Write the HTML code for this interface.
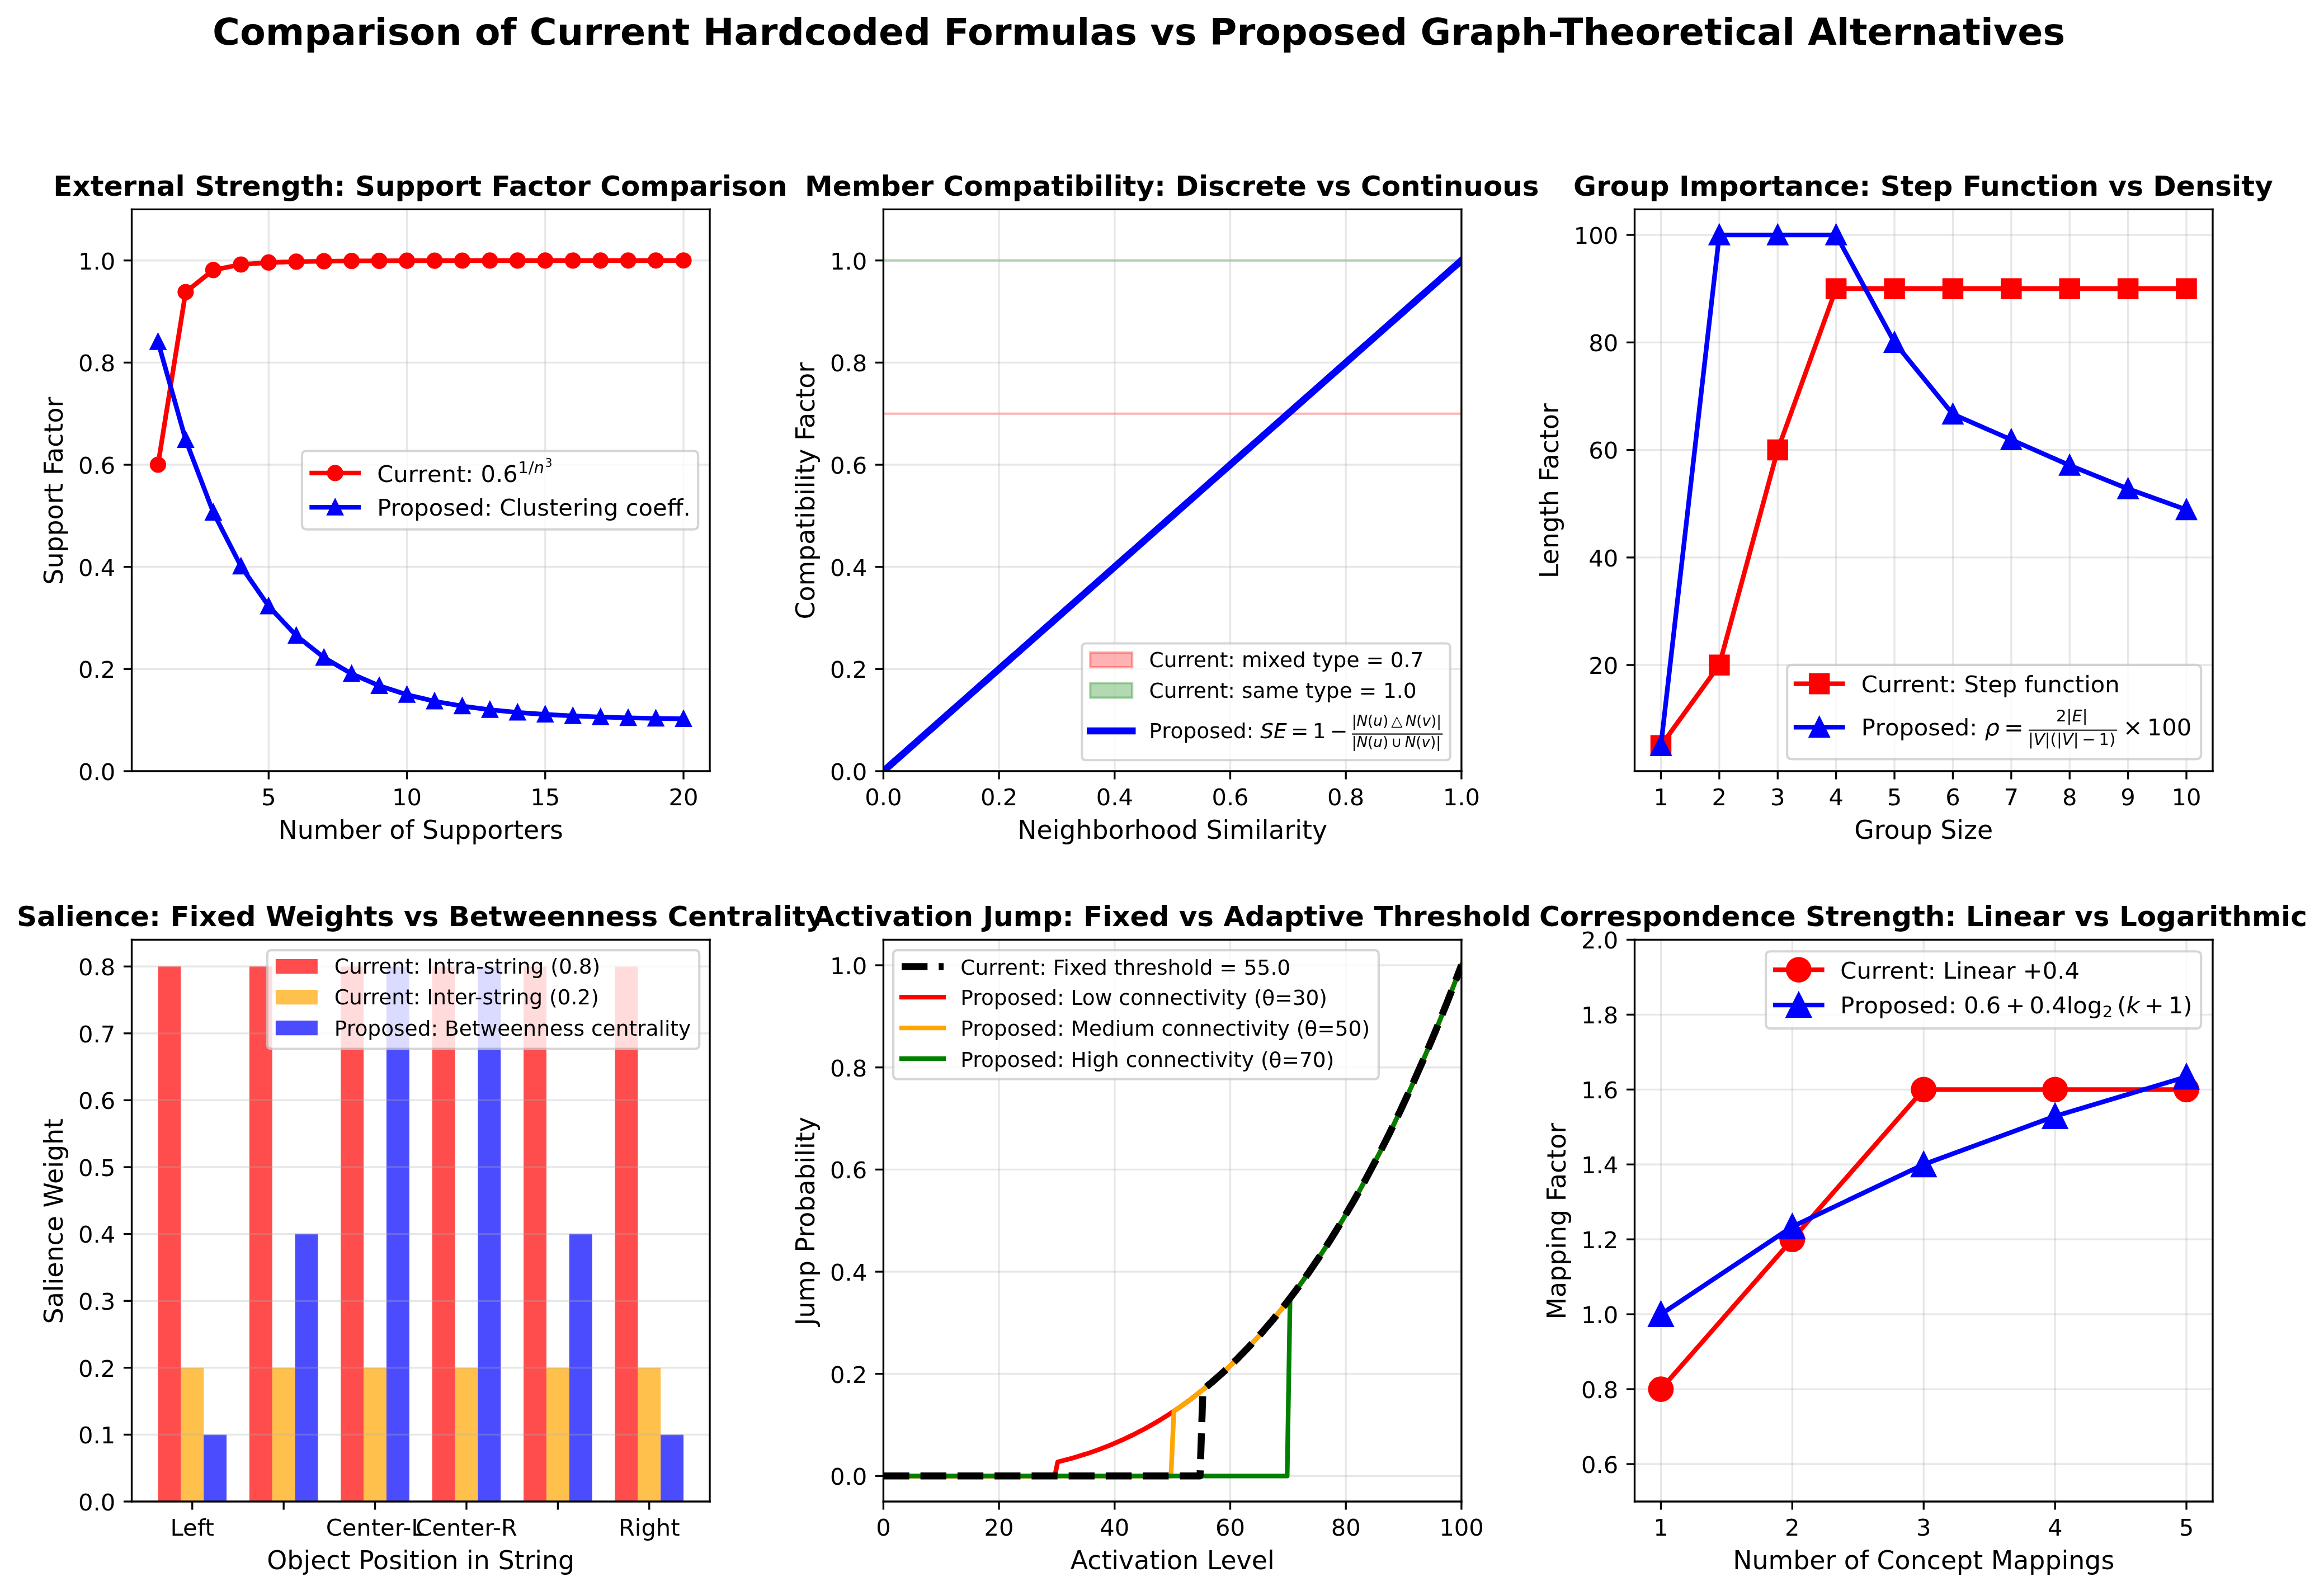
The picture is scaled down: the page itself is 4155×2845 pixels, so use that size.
<!DOCTYPE html>
<html><head><meta charset="utf-8"><title>Comparison of Current Hardcoded Formulas vs Proposed Graph-Theoretical Alternatives</title>
<style>
html,body{margin:0;padding:0;background:#fff;}
body{width:4155px;height:2845px;overflow:hidden;}
svg{display:block;will-change:transform;}
</style></head><body>
<svg width="4155" height="2845" preserveAspectRatio="none" viewBox="0 0 997.2 682.8" version="1.1">
<defs>
<style type="text/css">*{stroke-linejoin: round; stroke-linecap: butt}</style>
</defs>
<g id="figure_1">
<g id="patch_1">
<path d="M 0 682.8
L 997.2 682.8
L 997.2 0
L 0 0
z
" style="fill: #ffffff"/>
</g>
<g id="axes_1">
<g id="patch_2">
<path d="M 56.52 330.96
L 304.56 330.96
L 304.56 89.856
L 56.52 89.856
z
" style="fill: #ffffff"/>
</g>
<g id="matplotlib.axis_1">
<g id="xtick_1">
<g id="line2d_1">
<path d="M 115.266316 330.96
L 115.266316 89.856
" clip-path="url(#p49a4b855a4)" style="fill: none; stroke: #b0b0b0; stroke-opacity: 0.3; stroke-width: 0.8; stroke-linecap: square"/>
</g>
<g id="line2d_2">
<defs>
<path id="m7c25c535dc" d="M 0 0
L 0 3.5
" style="stroke: #000000; stroke-width: 0.8"/>
</defs>
<g>
<use href="#m7c25c535dc" x="115.266316" y="330.96" style="stroke: #000000; stroke-width: 0.8"/>
</g>
</g>
<g id="text_1">
<text style="font-size: 10px; font-family: 'DejaVu Sans', sans-serif; text-anchor: middle" x="115.266316" y="345.558437" transform="rotate(-0 115.266316 345.558437)">5</text>
</g>
</g>
<g id="xtick_2">
<g id="line2d_3">
<path d="M 174.606029 330.96
L 174.606029 89.856
" clip-path="url(#p49a4b855a4)" style="fill: none; stroke: #b0b0b0; stroke-opacity: 0.3; stroke-width: 0.8; stroke-linecap: square"/>
</g>
<g id="line2d_4">
<g>
<use href="#m7c25c535dc" x="174.606029" y="330.96" style="stroke: #000000; stroke-width: 0.8"/>
</g>
</g>
<g id="text_2">
<text style="font-size: 10px; font-family: 'DejaVu Sans', sans-serif; text-anchor: middle" x="174.606029" y="345.558437" transform="rotate(-0 174.606029 345.558437)">10</text>
</g>
</g>
<g id="xtick_3">
<g id="line2d_5">
<path d="M 233.945742 330.96
L 233.945742 89.856
" clip-path="url(#p49a4b855a4)" style="fill: none; stroke: #b0b0b0; stroke-opacity: 0.3; stroke-width: 0.8; stroke-linecap: square"/>
</g>
<g id="line2d_6">
<g>
<use href="#m7c25c535dc" x="233.945742" y="330.96" style="stroke: #000000; stroke-width: 0.8"/>
</g>
</g>
<g id="text_3">
<text style="font-size: 10px; font-family: 'DejaVu Sans', sans-serif; text-anchor: middle" x="233.945742" y="345.558437" transform="rotate(-0 233.945742 345.558437)">15</text>
</g>
</g>
<g id="xtick_4">
<g id="line2d_7">
<path d="M 293.285455 330.96
L 293.285455 89.856
" clip-path="url(#p49a4b855a4)" style="fill: none; stroke: #b0b0b0; stroke-opacity: 0.3; stroke-width: 0.8; stroke-linecap: square"/>
</g>
<g id="line2d_8">
<g>
<use href="#m7c25c535dc" x="293.285455" y="330.96" style="stroke: #000000; stroke-width: 0.8"/>
</g>
</g>
<g id="text_4">
<text style="font-size: 10px; font-family: 'DejaVu Sans', sans-serif; text-anchor: middle" x="293.285455" y="345.558437" transform="rotate(-0 293.285455 345.558437)">20</text>
</g>
</g>
<g id="xlabel1">
<text style="font-size: 11px; font-family: 'DejaVu Sans', sans-serif; text-anchor: middle" x="180.54" y="359.996406" transform="rotate(-0 180.54 359.996406)">Number of Supporters</text>
</g>
</g>
<g id="matplotlib.axis_2">
<g id="ytick_1">
<g id="line2d_9">
<path d="M 56.52 330.96
L 304.56 330.96
" clip-path="url(#p49a4b855a4)" style="fill: none; stroke: #b0b0b0; stroke-opacity: 0.3; stroke-width: 0.8; stroke-linecap: square"/>
</g>
<g id="line2d_10">
<defs>
<path id="mb258c49b38" d="M 0 0
L -3.5 0
" style="stroke: #000000; stroke-width: 0.8"/>
</defs>
<g>
<use href="#mb258c49b38" x="56.52" y="330.96" style="stroke: #000000; stroke-width: 0.8"/>
</g>
</g>
<g id="text_5">
<text style="font-size: 10px; font-family: 'DejaVu Sans', sans-serif; text-anchor: end" x="49.52" y="334.759219" transform="rotate(-0 49.52 334.759219)">0.0</text>
</g>
</g>
<g id="ytick_2">
<g id="line2d_11">
<path d="M 56.52 287.122909
L 304.56 287.122909
" clip-path="url(#p49a4b855a4)" style="fill: none; stroke: #b0b0b0; stroke-opacity: 0.3; stroke-width: 0.8; stroke-linecap: square"/>
</g>
<g id="line2d_12">
<g>
<use href="#mb258c49b38" x="56.52" y="287.122909" style="stroke: #000000; stroke-width: 0.8"/>
</g>
</g>
<g id="text_6">
<text style="font-size: 10px; font-family: 'DejaVu Sans', sans-serif; text-anchor: end" x="49.52" y="290.922128" transform="rotate(-0 49.52 290.922128)">0.2</text>
</g>
</g>
<g id="ytick_3">
<g id="line2d_13">
<path d="M 56.52 243.285818
L 304.56 243.285818
" clip-path="url(#p49a4b855a4)" style="fill: none; stroke: #b0b0b0; stroke-opacity: 0.3; stroke-width: 0.8; stroke-linecap: square"/>
</g>
<g id="line2d_14">
<g>
<use href="#mb258c49b38" x="56.52" y="243.285818" style="stroke: #000000; stroke-width: 0.8"/>
</g>
</g>
<g id="text_7">
<text style="font-size: 10px; font-family: 'DejaVu Sans', sans-serif; text-anchor: end" x="49.52" y="247.085037" transform="rotate(-0 49.52 247.085037)">0.4</text>
</g>
</g>
<g id="ytick_4">
<g id="line2d_15">
<path d="M 56.52 199.448727
L 304.56 199.448727
" clip-path="url(#p49a4b855a4)" style="fill: none; stroke: #b0b0b0; stroke-opacity: 0.3; stroke-width: 0.8; stroke-linecap: square"/>
</g>
<g id="line2d_16">
<g>
<use href="#mb258c49b38" x="56.52" y="199.448727" style="stroke: #000000; stroke-width: 0.8"/>
</g>
</g>
<g id="text_8">
<text style="font-size: 10px; font-family: 'DejaVu Sans', sans-serif; text-anchor: end" x="49.52" y="203.247946" transform="rotate(-0 49.52 203.247946)">0.6</text>
</g>
</g>
<g id="ytick_5">
<g id="line2d_17">
<path d="M 56.52 155.611636
L 304.56 155.611636
" clip-path="url(#p49a4b855a4)" style="fill: none; stroke: #b0b0b0; stroke-opacity: 0.3; stroke-width: 0.8; stroke-linecap: square"/>
</g>
<g id="line2d_18">
<g>
<use href="#mb258c49b38" x="56.52" y="155.611636" style="stroke: #000000; stroke-width: 0.8"/>
</g>
</g>
<g id="text_9">
<text style="font-size: 10px; font-family: 'DejaVu Sans', sans-serif; text-anchor: end" x="49.52" y="159.410855" transform="rotate(-0 49.52 159.410855)">0.8</text>
</g>
</g>
<g id="ytick_6">
<g id="line2d_19">
<path d="M 56.52 111.774545
L 304.56 111.774545
" clip-path="url(#p49a4b855a4)" style="fill: none; stroke: #b0b0b0; stroke-opacity: 0.3; stroke-width: 0.8; stroke-linecap: square"/>
</g>
<g id="line2d_20">
<g>
<use href="#mb258c49b38" x="56.52" y="111.774545" style="stroke: #000000; stroke-width: 0.8"/>
</g>
</g>
<g id="text_10">
<text style="font-size: 10px; font-family: 'DejaVu Sans', sans-serif; text-anchor: end" x="49.52" y="115.573764" transform="rotate(-0 49.52 115.573764)">1.0</text>
</g>
</g>
<g id="ylabel1" transform="translate(-0.4800 0.2400)">
<text style="font-size: 11px; font-family: 'DejaVu Sans', sans-serif; text-anchor: middle" x="27.329219" y="210.408" transform="rotate(-90 27.329219 210.408)">Support Factor</text>
</g>
</g>
<g id="line2d_21">
<path d="M 67.794545 199.448727
L 79.662488 125.332765
L 91.530431 115.882435
L 103.398373 113.517044
L 115.266316 112.668442
L 127.134258 112.292292
L 139.002201 112.100733
L 150.870144 111.993119
L 162.738086 111.92808
L 174.606029 111.886482
L 186.473971 111.858651
L 198.341914 111.839331
L 210.209856 111.825502
L 222.077799 111.815345
L 233.945742 111.807718
L 245.813684 111.801879
L 257.681627 111.797334
L 269.549569 111.793743
L 281.417512 111.790869
L 293.285455 111.788541
" clip-path="url(#p49a4b855a4)" style="fill: none; stroke: #ff0000; stroke-width: 2; stroke-linecap: square"/>
<defs>
<path id="m970e73fc16" d="M 0 3
C 0.795609 3 1.55874 2.683901 2.12132 2.12132
C 2.683901 1.55874 3 0.795609 3 0
C 3 -0.795609 2.683901 -1.55874 2.12132 -2.12132
C 1.55874 -2.683901 0.795609 -3 0 -3
C -0.795609 -3 -1.55874 -2.683901 -2.12132 -2.12132
C -2.683901 -1.55874 -3 -0.795609 -3 0
C -3 0.795609 -2.683901 1.55874 -2.12132 2.12132
C -1.55874 2.683901 -0.795609 3 0 3
z
" style="stroke: #ff0000"/>
</defs>
<g clip-path="url(#p49a4b855a4)">
<use href="#m970e73fc16" x="67.794545" y="199.448727" style="fill: #ff0000; stroke: #ff0000"/>
<use href="#m970e73fc16" x="79.662488" y="125.332765" style="fill: #ff0000; stroke: #ff0000"/>
<use href="#m970e73fc16" x="91.530431" y="115.882435" style="fill: #ff0000; stroke: #ff0000"/>
<use href="#m970e73fc16" x="103.398373" y="113.517044" style="fill: #ff0000; stroke: #ff0000"/>
<use href="#m970e73fc16" x="115.266316" y="112.668442" style="fill: #ff0000; stroke: #ff0000"/>
<use href="#m970e73fc16" x="127.134258" y="112.292292" style="fill: #ff0000; stroke: #ff0000"/>
<use href="#m970e73fc16" x="139.002201" y="112.100733" style="fill: #ff0000; stroke: #ff0000"/>
<use href="#m970e73fc16" x="150.870144" y="111.993119" style="fill: #ff0000; stroke: #ff0000"/>
<use href="#m970e73fc16" x="162.738086" y="111.92808" style="fill: #ff0000; stroke: #ff0000"/>
<use href="#m970e73fc16" x="174.606029" y="111.886482" style="fill: #ff0000; stroke: #ff0000"/>
<use href="#m970e73fc16" x="186.473971" y="111.858651" style="fill: #ff0000; stroke: #ff0000"/>
<use href="#m970e73fc16" x="198.341914" y="111.839331" style="fill: #ff0000; stroke: #ff0000"/>
<use href="#m970e73fc16" x="210.209856" y="111.825502" style="fill: #ff0000; stroke: #ff0000"/>
<use href="#m970e73fc16" x="222.077799" y="111.815345" style="fill: #ff0000; stroke: #ff0000"/>
<use href="#m970e73fc16" x="233.945742" y="111.807718" style="fill: #ff0000; stroke: #ff0000"/>
<use href="#m970e73fc16" x="245.813684" y="111.801879" style="fill: #ff0000; stroke: #ff0000"/>
<use href="#m970e73fc16" x="257.681627" y="111.797334" style="fill: #ff0000; stroke: #ff0000"/>
<use href="#m970e73fc16" x="269.549569" y="111.793743" style="fill: #ff0000; stroke: #ff0000"/>
<use href="#m970e73fc16" x="281.417512" y="111.790869" style="fill: #ff0000; stroke: #ff0000"/>
<use href="#m970e73fc16" x="293.285455" y="111.788541" style="fill: #ff0000; stroke: #ff0000"/>
</g>
</g>
<g id="line2d_22">
<path d="M 67.794545 146.664876
L 79.662488 188.749927
L 91.530431 219.927299
L 103.398373 243.024064
L 115.266316 260.134569
L 127.134258 272.810343
L 139.002201 282.200787
L 150.870144 289.157399
L 162.738086 294.310984
L 174.606029 298.128853
L 186.473971 300.957201
L 198.341914 303.052492
L 210.209856 304.604722
L 222.077799 305.754642
L 233.945742 306.606524
L 245.813684 307.237614
L 257.681627 307.705136
L 269.549569 308.051486
L 281.417512 308.308068
L 293.285455 308.498148
" clip-path="url(#p49a4b855a4)" style="fill: none; stroke: #0000ff; stroke-width: 2; stroke-linecap: square"/>
<defs>
<path id="m8565240a08" d="M 0 -3
L -3 3
L 3 3
z
" style="stroke: #0000ff; stroke-linejoin: miter"/>
</defs>
<g clip-path="url(#p49a4b855a4)">
<use href="#m8565240a08" x="67.794545" y="146.664876" style="fill: #0000ff; stroke: #0000ff; stroke-linejoin: miter"/>
<use href="#m8565240a08" x="79.662488" y="188.749927" style="fill: #0000ff; stroke: #0000ff; stroke-linejoin: miter"/>
<use href="#m8565240a08" x="91.530431" y="219.927299" style="fill: #0000ff; stroke: #0000ff; stroke-linejoin: miter"/>
<use href="#m8565240a08" x="103.398373" y="243.024064" style="fill: #0000ff; stroke: #0000ff; stroke-linejoin: miter"/>
<use href="#m8565240a08" x="115.266316" y="260.134569" style="fill: #0000ff; stroke: #0000ff; stroke-linejoin: miter"/>
<use href="#m8565240a08" x="127.134258" y="272.810343" style="fill: #0000ff; stroke: #0000ff; stroke-linejoin: miter"/>
<use href="#m8565240a08" x="139.002201" y="282.200787" style="fill: #0000ff; stroke: #0000ff; stroke-linejoin: miter"/>
<use href="#m8565240a08" x="150.870144" y="289.157399" style="fill: #0000ff; stroke: #0000ff; stroke-linejoin: miter"/>
<use href="#m8565240a08" x="162.738086" y="294.310984" style="fill: #0000ff; stroke: #0000ff; stroke-linejoin: miter"/>
<use href="#m8565240a08" x="174.606029" y="298.128853" style="fill: #0000ff; stroke: #0000ff; stroke-linejoin: miter"/>
<use href="#m8565240a08" x="186.473971" y="300.957201" style="fill: #0000ff; stroke: #0000ff; stroke-linejoin: miter"/>
<use href="#m8565240a08" x="198.341914" y="303.052492" style="fill: #0000ff; stroke: #0000ff; stroke-linejoin: miter"/>
<use href="#m8565240a08" x="210.209856" y="304.604722" style="fill: #0000ff; stroke: #0000ff; stroke-linejoin: miter"/>
<use href="#m8565240a08" x="222.077799" y="305.754642" style="fill: #0000ff; stroke: #0000ff; stroke-linejoin: miter"/>
<use href="#m8565240a08" x="233.945742" y="306.606524" style="fill: #0000ff; stroke: #0000ff; stroke-linejoin: miter"/>
<use href="#m8565240a08" x="245.813684" y="307.237614" style="fill: #0000ff; stroke: #0000ff; stroke-linejoin: miter"/>
<use href="#m8565240a08" x="257.681627" y="307.705136" style="fill: #0000ff; stroke: #0000ff; stroke-linejoin: miter"/>
<use href="#m8565240a08" x="269.549569" y="308.051486" style="fill: #0000ff; stroke: #0000ff; stroke-linejoin: miter"/>
<use href="#m8565240a08" x="281.417512" y="308.308068" style="fill: #0000ff; stroke: #0000ff; stroke-linejoin: miter"/>
<use href="#m8565240a08" x="293.285455" y="308.498148" style="fill: #0000ff; stroke: #0000ff; stroke-linejoin: miter"/>
</g>
</g>
<g id="patch_3">
<path d="M 56.52 330.96
L 56.52 89.856
" style="fill: none; stroke: #000000; stroke-width: 0.8; stroke-linejoin: miter; stroke-linecap: square"/>
</g>
<g id="patch_4">
<path d="M 304.56 330.96
L 304.56 89.856
" style="fill: none; stroke: #000000; stroke-width: 0.8; stroke-linejoin: miter; stroke-linecap: square"/>
</g>
<g id="patch_5">
<path d="M 56.52 330.96
L 304.56 330.96
" style="fill: none; stroke: #000000; stroke-width: 0.8; stroke-linejoin: miter; stroke-linecap: square"/>
</g>
<g id="patch_6">
<path d="M 56.52 89.856
L 304.56 89.856
" style="fill: none; stroke: #000000; stroke-width: 0.8; stroke-linejoin: miter; stroke-linecap: square"/>
</g>
<g id="title1" transform="translate(-0.1920 0.2400)">
<text style="font-weight: 700; font-size: 12px; font-family: 'DejaVu Sans', sans-serif; text-anchor: middle" x="180.54" y="83.856" transform="rotate(-0 180.54 83.856)">External Strength: Support Factor Comparison</text>
</g>
<g id="legend_1">
<g id="leg1_frame">
<path d="M 131.5772 227.1871
L 297.5600 227.1871
Q 299.5600 227.1871 299.5600 225.1871
L 299.5600 195.5089
Q 299.5600 193.5089 297.5600 193.5089
L 131.5772 193.5089
Q 129.5772 193.5089 129.5772 195.5089
L 129.5772 225.1871
Q 129.5772 227.1871 131.5772 227.1871
z
" style="fill: #ffffff; opacity: 0.8; stroke: #cccccc; stroke-linejoin: miter"/>
</g>
<g id="leg1_handle0" transform="translate(0.2160 0.3360)">
<path d="M 133.577188 202.68925
L 143.577188 202.68925
L 153.577188 202.68925
" style="fill: none; stroke: #ff0000; stroke-width: 2; stroke-linecap: square"/>
<g>
<use href="#m970e73fc16" x="143.577188" y="202.68925" style="fill: #ff0000; stroke: #ff0000"/>
</g>
</g>
<g id="leg1_text0" transform="translate(0.2160 1.5360)">
<g transform="translate(161.577188 206.18925)">
<text>
<tspan x="0" y="-0.855469" style="font-size: 10px; font-family: 'DejaVu Sans', sans-serif">C</tspan>
<tspan x="6.982422" y="-0.855469" style="font-size: 10px; font-family: 'DejaVu Sans', sans-serif">u</tspan>
<tspan x="13.320312" y="-0.855469" style="font-size: 10px; font-family: 'DejaVu Sans', sans-serif">r</tspan>
<tspan x="17.431641" y="-0.855469" style="font-size: 10px; font-family: 'DejaVu Sans', sans-serif">r</tspan>
<tspan x="21.542969" y="-0.855469" style="font-size: 10px; font-family: 'DejaVu Sans', sans-serif">e</tspan>
<tspan x="27.695312" y="-0.855469" style="font-size: 10px; font-family: 'DejaVu Sans', sans-serif">n</tspan>
<tspan x="34.033203" y="-0.855469" style="font-size: 10px; font-family: 'DejaVu Sans', sans-serif">t</tspan>
<tspan x="37.954102" y="-0.855469" style="font-size: 10px; font-family: 'DejaVu Sans', sans-serif">:</tspan>
<tspan x="41.323242" y="-0.855469" style="font-size: 10px; font-family: 'DejaVu Sans', sans-serif"> </tspan>
<tspan x="44.501953" y="-0.855469" style="font-size: 10px; font-family: 'DejaVu Sans', sans-serif">0</tspan>
<tspan x="50.864258" y="-0.855469" style="font-size: 10px; font-family: 'DejaVu Sans', sans-serif">.</tspan>
<tspan x="54.042969" y="-0.855469" style="font-size: 10px; font-family: 'DejaVu Sans', sans-serif">6</tspan>
<tspan x="60.500977" y="-4.683594" style="font-size: 7px; font-family: 'DejaVu Sans', sans-serif">1</tspan>
<tspan x="64.95459" y="-4.683594" style="font-size: 7px; font-family: 'DejaVu Sans', sans-serif">/</tspan>
<tspan x="67.312988" y="-4.683594" style="font-style: oblique; font-size: 7px; font-family: 'DejaVu Sans', sans-serif">n</tspan>
<tspan x="72.074392" y="-7.363281" style="font-size: 4.9px; font-family: 'DejaVu Sans', sans-serif">3</tspan>
</text>
</g>
</g>
<g id="leg1_handle1" transform="translate(0.2160 0.3600)">
<path d="M 133.577188 217.367375
L 143.577188 217.367375
L 153.577188 217.367375
" style="fill: none; stroke: #0000ff; stroke-width: 2; stroke-linecap: square"/>
<g>
<use href="#m8565240a08" x="143.577188" y="217.367375" style="fill: #0000ff; stroke: #0000ff; stroke-linejoin: miter"/>
</g>
</g>
<g id="leg1_text1" transform="translate(0.2160 0.4560)">
<text style="font-size: 10px; font-family: 'DejaVu Sans', sans-serif; text-anchor: start" x="161.577188" y="220.867375" transform="rotate(-0 161.577188 220.867375)">Proposed: Clustering coeff.</text>
</g>
</g>
</g>
<g id="axes_2">
<g id="patch_7">
<path d="M 379.056 330.96
L 627.096 330.96
L 627.096 89.856
L 379.056 89.856
z
" style="fill: #ffffff"/>
</g>
<g id="FillBetweenPolyCollection_1">
<defs>
<path id="me90b8fbbf3" d="M 379.056 -505.269818
L 379.056 -505.269818
L 381.561455 -505.269818
L 384.066909 -505.269818
L 386.572364 -505.269818
L 389.077818 -505.269818
L 391.583273 -505.269818
L 394.088727 -505.269818
L 396.594182 -505.269818
L 399.099636 -505.269818
L 401.605091 -505.269818
L 404.110545 -505.269818
L 406.616 -505.269818
L 409.121455 -505.269818
L 411.626909 -505.269818
L 414.132364 -505.269818
L 416.637818 -505.269818
L 419.143273 -505.269818
L 421.648727 -505.269818
L 424.154182 -505.269818
L 426.659636 -505.269818
L 429.165091 -505.269818
L 431.670545 -505.269818
L 434.176 -505.269818
L 436.681455 -505.269818
L 439.186909 -505.269818
L 441.692364 -505.269818
L 444.197818 -505.269818
L 446.703273 -505.269818
L 449.208727 -505.269818
L 451.714182 -505.269818
L 454.219636 -505.269818
L 456.725091 -505.269818
L 459.230545 -505.269818
L 461.736 -505.269818
L 464.241455 -505.269818
L 466.746909 -505.269818
L 469.252364 -505.269818
L 471.757818 -505.269818
L 474.263273 -505.269818
L 476.768727 -505.269818
L 479.274182 -505.269818
L 481.779636 -505.269818
L 484.285091 -505.269818
L 486.790545 -505.269818
L 489.296 -505.269818
L 491.801455 -505.269818
L 494.306909 -505.269818
L 496.812364 -505.269818
L 499.317818 -505.269818
L 501.823273 -505.269818
L 504.328727 -505.269818
L 506.834182 -505.269818
L 509.339636 -505.269818
L 511.845091 -505.269818
L 514.350545 -505.269818
L 516.856 -505.269818
L 519.361455 -505.269818
L 521.866909 -505.269818
L 524.372364 -505.269818
L 526.877818 -505.269818
L 529.383273 -505.269818
L 531.888727 -505.269818
L 534.394182 -505.269818
L 536.899636 -505.269818
L 539.405091 -505.269818
L 541.910545 -505.269818
L 544.416 -505.269818
L 546.921455 -505.269818
L 549.426909 -505.269818
L 551.932364 -505.269818
L 554.437818 -505.269818
L 556.943273 -505.269818
L 559.448727 -505.269818
L 561.954182 -505.269818
L 564.459636 -505.269818
L 566.965091 -505.269818
L 569.470545 -505.269818
L 571.976 -505.269818
L 574.481455 -505.269818
L 576.986909 -505.269818
L 579.492364 -505.269818
L 581.997818 -505.269818
L 584.503273 -505.269818
L 587.008727 -505.269818
L 589.514182 -505.269818
L 592.019636 -505.269818
L 594.525091 -505.269818
L 597.030545 -505.269818
L 599.536 -505.269818
L 602.041455 -505.269818
L 604.546909 -505.269818
L 607.052364 -505.269818
L 609.557818 -505.269818
L 612.063273 -505.269818
L 614.568727 -505.269818
L 617.074182 -505.269818
L 619.579636 -505.269818
L 622.085091 -505.269818
L 624.590545 -505.269818
L 627.096 -505.269818
L 627.096 -505.269818
L 627.096 -505.269818
L 624.590545 -505.269818
L 622.085091 -505.269818
L 619.579636 -505.269818
L 617.074182 -505.269818
L 614.568727 -505.269818
L 612.063273 -505.269818
L 609.557818 -505.269818
L 607.052364 -505.269818
L 604.546909 -505.269818
L 602.041455 -505.269818
L 599.536 -505.269818
L 597.030545 -505.269818
L 594.525091 -505.269818
L 592.019636 -505.269818
L 589.514182 -505.269818
L 587.008727 -505.269818
L 584.503273 -505.269818
L 581.997818 -505.269818
L 579.492364 -505.269818
L 576.986909 -505.269818
L 574.481455 -505.269818
L 571.976 -505.269818
L 569.470545 -505.269818
L 566.965091 -505.269818
L 564.459636 -505.269818
L 561.954182 -505.269818
L 559.448727 -505.269818
L 556.943273 -505.269818
L 554.437818 -505.269818
L 551.932364 -505.269818
L 549.426909 -505.269818
L 546.921455 -505.269818
L 544.416 -505.269818
L 541.910545 -505.269818
L 539.405091 -505.269818
L 536.899636 -505.269818
L 534.394182 -505.269818
L 531.888727 -505.269818
L 529.383273 -505.269818
L 526.877818 -505.269818
L 524.372364 -505.269818
L 521.866909 -505.269818
L 519.361455 -505.269818
L 516.856 -505.269818
L 514.350545 -505.269818
L 511.845091 -505.269818
L 509.339636 -505.269818
L 506.834182 -505.269818
L 504.328727 -505.269818
L 501.823273 -505.269818
L 499.317818 -505.269818
L 496.812364 -505.269818
L 494.306909 -505.269818
L 491.801455 -505.269818
L 489.296 -505.269818
L 486.790545 -505.269818
L 484.285091 -505.269818
L 481.779636 -505.269818
L 479.274182 -505.269818
L 476.768727 -505.269818
L 474.263273 -505.269818
L 471.757818 -505.269818
L 469.252364 -505.269818
L 466.746909 -505.269818
L 464.241455 -505.269818
L 461.736 -505.269818
L 459.230545 -505.269818
L 456.725091 -505.269818
L 454.219636 -505.269818
L 451.714182 -505.269818
L 449.208727 -505.269818
L 446.703273 -505.269818
L 444.197818 -505.269818
L 441.692364 -505.269818
L 439.186909 -505.269818
L 436.681455 -505.269818
L 434.176 -505.269818
L 431.670545 -505.269818
L 429.165091 -505.269818
L 426.659636 -505.269818
L 424.154182 -505.269818
L 421.648727 -505.269818
L 419.143273 -505.269818
L 416.637818 -505.269818
L 414.132364 -505.269818
L 411.626909 -505.269818
L 409.121455 -505.269818
L 406.616 -505.269818
L 404.110545 -505.269818
L 401.605091 -505.269818
L 399.099636 -505.269818
L 396.594182 -505.269818
L 394.088727 -505.269818
L 391.583273 -505.269818
L 389.077818 -505.269818
L 386.572364 -505.269818
L 384.066909 -505.269818
L 381.561455 -505.269818
L 379.056 -505.269818
z
" style="stroke: #ff0000; stroke-opacity: 0.3"/>
</defs>
<g clip-path="url(#p47d98718e2)">
<use href="#me90b8fbbf3" x="0" y="682.8" style="fill: #ff0000; fill-opacity: 0.3; stroke: #ff0000; stroke-opacity: 0.3"/>
</g>
</g>
<g id="FillBetweenPolyCollection_2">
<defs>
<path id="m1f1539c55b" d="M 379.056 -571.025455
L 379.056 -571.025455
L 381.561455 -571.025455
L 384.066909 -571.025455
L 386.572364 -571.025455
L 389.077818 -571.025455
L 391.583273 -571.025455
L 394.088727 -571.025455
L 396.594182 -571.025455
L 399.099636 -571.025455
L 401.605091 -571.025455
L 404.110545 -571.025455
L 406.616 -571.025455
L 409.121455 -571.025455
L 411.626909 -571.025455
L 414.132364 -571.025455
L 416.637818 -571.025455
L 419.143273 -571.025455
L 421.648727 -571.025455
L 424.154182 -571.025455
L 426.659636 -571.025455
L 429.165091 -571.025455
L 431.670545 -571.025455
L 434.176 -571.025455
L 436.681455 -571.025455
L 439.186909 -571.025455
L 441.692364 -571.025455
L 444.197818 -571.025455
L 446.703273 -571.025455
L 449.208727 -571.025455
L 451.714182 -571.025455
L 454.219636 -571.025455
L 456.725091 -571.025455
L 459.230545 -571.025455
L 461.736 -571.025455
L 464.241455 -571.025455
L 466.746909 -571.025455
L 469.252364 -571.025455
L 471.757818 -571.025455
L 474.263273 -571.025455
L 476.768727 -571.025455
L 479.274182 -571.025455
L 481.779636 -571.025455
L 484.285091 -571.025455
L 486.790545 -571.025455
L 489.296 -571.025455
L 491.801455 -571.025455
L 494.306909 -571.025455
L 496.812364 -571.025455
L 499.317818 -571.025455
L 501.823273 -571.025455
L 504.328727 -571.025455
L 506.834182 -571.025455
L 509.339636 -571.025455
L 511.845091 -571.025455
L 514.350545 -571.025455
L 516.856 -571.025455
L 519.361455 -571.025455
L 521.866909 -571.025455
L 524.372364 -571.025455
L 526.877818 -571.025455
L 529.383273 -571.025455
L 531.888727 -571.025455
L 534.394182 -571.025455
L 536.899636 -571.025455
L 539.405091 -571.025455
L 541.910545 -571.025455
L 544.416 -571.025455
L 546.921455 -571.025455
L 549.426909 -571.025455
L 551.932364 -571.025455
L 554.437818 -571.025455
L 556.943273 -571.025455
L 559.448727 -571.025455
L 561.954182 -571.025455
L 564.459636 -571.025455
L 566.965091 -571.025455
L 569.470545 -571.025455
L 571.976 -571.025455
L 574.481455 -571.025455
L 576.986909 -571.025455
L 579.492364 -571.025455
L 581.997818 -571.025455
L 584.503273 -571.025455
L 587.008727 -571.025455
L 589.514182 -571.025455
L 592.019636 -571.025455
L 594.525091 -571.025455
L 597.030545 -571.025455
L 599.536 -571.025455
L 602.041455 -571.025455
L 604.546909 -571.025455
L 607.052364 -571.025455
L 609.557818 -571.025455
L 612.063273 -571.025455
L 614.568727 -571.025455
L 617.074182 -571.025455
L 619.579636 -571.025455
L 622.085091 -571.025455
L 624.590545 -571.025455
L 627.096 -571.025455
L 627.096 -571.025455
L 627.096 -571.025455
L 624.590545 -571.025455
L 622.085091 -571.025455
L 619.579636 -571.025455
L 617.074182 -571.025455
L 614.568727 -571.025455
L 612.063273 -571.025455
L 609.557818 -571.025455
L 607.052364 -571.025455
L 604.546909 -571.025455
L 602.041455 -571.025455
L 599.536 -571.025455
L 597.030545 -571.025455
L 594.525091 -571.025455
L 592.019636 -571.025455
L 589.514182 -571.025455
L 587.008727 -571.025455
L 584.503273 -571.025455
L 581.997818 -571.025455
L 579.492364 -571.025455
L 576.986909 -571.025455
L 574.481455 -571.025455
L 571.976 -571.025455
L 569.470545 -571.025455
L 566.965091 -571.025455
L 564.459636 -571.025455
L 561.954182 -571.025455
L 559.448727 -571.025455
L 556.943273 -571.025455
L 554.437818 -571.025455
L 551.932364 -571.025455
L 549.426909 -571.025455
L 546.921455 -571.025455
L 544.416 -571.025455
L 541.910545 -571.025455
L 539.405091 -571.025455
L 536.899636 -571.025455
L 534.394182 -571.025455
L 531.888727 -571.025455
L 529.383273 -571.025455
L 526.877818 -571.025455
L 524.372364 -571.025455
L 521.866909 -571.025455
L 519.361455 -571.025455
L 516.856 -571.025455
L 514.350545 -571.025455
L 511.845091 -571.025455
L 509.339636 -571.025455
L 506.834182 -571.025455
L 504.328727 -571.025455
L 501.823273 -571.025455
L 499.317818 -571.025455
L 496.812364 -571.025455
L 494.306909 -571.025455
L 491.801455 -571.025455
L 489.296 -571.025455
L 486.790545 -571.025455
L 484.285091 -571.025455
L 481.779636 -571.025455
L 479.274182 -571.025455
L 476.768727 -571.025455
L 474.263273 -571.025455
L 471.757818 -571.025455
L 469.252364 -571.025455
L 466.746909 -571.025455
L 464.241455 -571.025455
L 461.736 -571.025455
L 459.230545 -571.025455
L 456.725091 -571.025455
L 454.219636 -571.025455
L 451.714182 -571.025455
L 449.208727 -571.025455
L 446.703273 -571.025455
L 444.197818 -571.025455
L 441.692364 -571.025455
L 439.186909 -571.025455
L 436.681455 -571.025455
L 434.176 -571.025455
L 431.670545 -571.025455
L 429.165091 -571.025455
L 426.659636 -571.025455
L 424.154182 -571.025455
L 421.648727 -571.025455
L 419.143273 -571.025455
L 416.637818 -571.025455
L 414.132364 -571.025455
L 411.626909 -571.025455
L 409.121455 -571.025455
L 406.616 -571.025455
L 404.110545 -571.025455
L 401.605091 -571.025455
L 399.099636 -571.025455
L 396.594182 -571.025455
L 394.088727 -571.025455
L 391.583273 -571.025455
L 389.077818 -571.025455
L 386.572364 -571.025455
L 384.066909 -571.025455
L 381.561455 -571.025455
L 379.056 -571.025455
z
" style="stroke: #008000; stroke-opacity: 0.3"/>
</defs>
<g clip-path="url(#p47d98718e2)">
<use href="#m1f1539c55b" x="0" y="682.8" style="fill: #008000; fill-opacity: 0.3; stroke: #008000; stroke-opacity: 0.3"/>
</g>
</g>
<g id="matplotlib.axis_3">
<g id="xtick_5">
<g id="line2d_23">
<path d="M 379.056 330.96
L 379.056 89.856
" clip-path="url(#p47d98718e2)" style="fill: none; stroke: #b0b0b0; stroke-opacity: 0.3; stroke-width: 0.8; stroke-linecap: square"/>
</g>
<g id="line2d_24">
<g>
<use href="#m7c25c535dc" x="379.056" y="330.96" style="stroke: #000000; stroke-width: 0.8"/>
</g>
</g>
<g id="text_11">
<text style="font-size: 10px; font-family: 'DejaVu Sans', sans-serif; text-anchor: middle" x="379.056" y="345.558437" transform="rotate(-0 379.056 345.558437)">0.0</text>
</g>
</g>
<g id="xtick_6">
<g id="line2d_25">
<path d="M 428.664 330.96
L 428.664 89.856
" clip-path="url(#p47d98718e2)" style="fill: none; stroke: #b0b0b0; stroke-opacity: 0.3; stroke-width: 0.8; stroke-linecap: square"/>
</g>
<g id="line2d_26">
<g>
<use href="#m7c25c535dc" x="428.664" y="330.96" style="stroke: #000000; stroke-width: 0.8"/>
</g>
</g>
<g id="text_12">
<text style="font-size: 10px; font-family: 'DejaVu Sans', sans-serif; text-anchor: middle" x="428.664" y="345.558437" transform="rotate(-0 428.664 345.558437)">0.2</text>
</g>
</g>
<g id="xtick_7">
<g id="line2d_27">
<path d="M 478.272 330.96
L 478.272 89.856
" clip-path="url(#p47d98718e2)" style="fill: none; stroke: #b0b0b0; stroke-opacity: 0.3; stroke-width: 0.8; stroke-linecap: square"/>
</g>
<g id="line2d_28">
<g>
<use href="#m7c25c535dc" x="478.272" y="330.96" style="stroke: #000000; stroke-width: 0.8"/>
</g>
</g>
<g id="text_13">
<text style="font-size: 10px; font-family: 'DejaVu Sans', sans-serif; text-anchor: middle" x="478.272" y="345.558437" transform="rotate(-0 478.272 345.558437)">0.4</text>
</g>
</g>
<g id="xtick_8">
<g id="line2d_29">
<path d="M 527.88 330.96
L 527.88 89.856
" clip-path="url(#p47d98718e2)" style="fill: none; stroke: #b0b0b0; stroke-opacity: 0.3; stroke-width: 0.8; stroke-linecap: square"/>
</g>
<g id="line2d_30">
<g>
<use href="#m7c25c535dc" x="527.88" y="330.96" style="stroke: #000000; stroke-width: 0.8"/>
</g>
</g>
<g id="text_14">
<text style="font-size: 10px; font-family: 'DejaVu Sans', sans-serif; text-anchor: middle" x="527.88" y="345.558437" transform="rotate(-0 527.88 345.558437)">0.6</text>
</g>
</g>
<g id="xtick_9">
<g id="line2d_31">
<path d="M 577.488 330.96
L 577.488 89.856
" clip-path="url(#p47d98718e2)" style="fill: none; stroke: #b0b0b0; stroke-opacity: 0.3; stroke-width: 0.8; stroke-linecap: square"/>
</g>
<g id="line2d_32">
<g>
<use href="#m7c25c535dc" x="577.488" y="330.96" style="stroke: #000000; stroke-width: 0.8"/>
</g>
</g>
<g id="text_15">
<text style="font-size: 10px; font-family: 'DejaVu Sans', sans-serif; text-anchor: middle" x="577.488" y="345.558437" transform="rotate(-0 577.488 345.558437)">0.8</text>
</g>
</g>
<g id="xtick_10">
<g id="line2d_33">
<path d="M 627.096 330.96
L 627.096 89.856
" clip-path="url(#p47d98718e2)" style="fill: none; stroke: #b0b0b0; stroke-opacity: 0.3; stroke-width: 0.8; stroke-linecap: square"/>
</g>
<g id="line2d_34">
<g>
<use href="#m7c25c535dc" x="627.096" y="330.96" style="stroke: #000000; stroke-width: 0.8"/>
</g>
</g>
<g id="text_16">
<text style="font-size: 10px; font-family: 'DejaVu Sans', sans-serif; text-anchor: middle" x="627.096" y="345.558437" transform="rotate(-0 627.096 345.558437)">1.0</text>
</g>
</g>
<g id="xlabel2">
<text style="font-size: 11px; font-family: 'DejaVu Sans', sans-serif; text-anchor: middle" x="503.076" y="359.996406" transform="rotate(-0 503.076 359.996406)">Neighborhood Similarity</text>
</g>
</g>
<g id="matplotlib.axis_4">
<g id="ytick_7">
<g id="line2d_35">
<path d="M 379.056 330.96
L 627.096 330.96
" clip-path="url(#p47d98718e2)" style="fill: none; stroke: #b0b0b0; stroke-opacity: 0.3; stroke-width: 0.8; stroke-linecap: square"/>
</g>
<g id="line2d_36">
<g>
<use href="#mb258c49b38" x="379.056" y="330.96" style="stroke: #000000; stroke-width: 0.8"/>
</g>
</g>
<g id="text_17">
<text style="font-size: 10px; font-family: 'DejaVu Sans', sans-serif; text-anchor: end" x="372.056" y="334.759219" transform="rotate(-0 372.056 334.759219)">0.0</text>
</g>
</g>
<g id="ytick_8">
<g id="line2d_37">
<path d="M 379.056 287.122909
L 627.096 287.122909
" clip-path="url(#p47d98718e2)" style="fill: none; stroke: #b0b0b0; stroke-opacity: 0.3; stroke-width: 0.8; stroke-linecap: square"/>
</g>
<g id="line2d_38">
<g>
<use href="#mb258c49b38" x="379.056" y="287.122909" style="stroke: #000000; stroke-width: 0.8"/>
</g>
</g>
<g id="text_18">
<text style="font-size: 10px; font-family: 'DejaVu Sans', sans-serif; text-anchor: end" x="372.056" y="290.922128" transform="rotate(-0 372.056 290.922128)">0.2</text>
</g>
</g>
<g id="ytick_9">
<g id="line2d_39">
<path d="M 379.056 243.285818
L 627.096 243.285818
" clip-path="url(#p47d98718e2)" style="fill: none; stroke: #b0b0b0; stroke-opacity: 0.3; stroke-width: 0.8; stroke-linecap: square"/>
</g>
<g id="line2d_40">
<g>
<use href="#mb258c49b38" x="379.056" y="243.285818" style="stroke: #000000; stroke-width: 0.8"/>
</g>
</g>
<g id="text_19">
<text style="font-size: 10px; font-family: 'DejaVu Sans', sans-serif; text-anchor: end" x="372.056" y="247.085037" transform="rotate(-0 372.056 247.085037)">0.4</text>
</g>
</g>
<g id="ytick_10">
<g id="line2d_41">
<path d="M 379.056 199.448727
L 627.096 199.448727
" clip-path="url(#p47d98718e2)" style="fill: none; stroke: #b0b0b0; stroke-opacity: 0.3; stroke-width: 0.8; stroke-linecap: square"/>
</g>
<g id="line2d_42">
<g>
<use href="#mb258c49b38" x="379.056" y="199.448727" style="stroke: #000000; stroke-width: 0.8"/>
</g>
</g>
<g id="text_20">
<text style="font-size: 10px; font-family: 'DejaVu Sans', sans-serif; text-anchor: end" x="372.056" y="203.247946" transform="rotate(-0 372.056 203.247946)">0.6</text>
</g>
</g>
<g id="ytick_11">
<g id="line2d_43">
<path d="M 379.056 155.611636
L 627.096 155.611636
" clip-path="url(#p47d98718e2)" style="fill: none; stroke: #b0b0b0; stroke-opacity: 0.3; stroke-width: 0.8; stroke-linecap: square"/>
</g>
<g id="line2d_44">
<g>
<use href="#mb258c49b38" x="379.056" y="155.611636" style="stroke: #000000; stroke-width: 0.8"/>
</g>
</g>
<g id="text_21">
<text style="font-size: 10px; font-family: 'DejaVu Sans', sans-serif; text-anchor: end" x="372.056" y="159.410855" transform="rotate(-0 372.056 159.410855)">0.8</text>
</g>
</g>
<g id="ytick_12">
<g id="line2d_45">
<path d="M 379.056 111.774545
L 627.096 111.774545
" clip-path="url(#p47d98718e2)" style="fill: none; stroke: #b0b0b0; stroke-opacity: 0.3; stroke-width: 0.8; stroke-linecap: square"/>
</g>
<g id="line2d_46">
<g>
<use href="#mb258c49b38" x="379.056" y="111.774545" style="stroke: #000000; stroke-width: 0.8"/>
</g>
</g>
<g id="text_22">
<text style="font-size: 10px; font-family: 'DejaVu Sans', sans-serif; text-anchor: end" x="372.056" y="115.573764" transform="rotate(-0 372.056 115.573764)">1.0</text>
</g>
</g>
<g id="ylabel2" transform="translate(-0.4800 0.2400)">
<text style="font-size: 11px; font-family: 'DejaVu Sans', sans-serif; text-anchor: middle" x="349.865219" y="210.408" transform="rotate(-90 349.865219 210.408)">Compatibility Factor</text>
</g>
</g>
<g id="line2d_47">
<path d="M 379.056 330.96
L 381.561455 328.746006
L 384.066909 326.532011
L 386.572364 324.318017
L 389.077818 322.104022
L 391.583273 319.890028
L 394.088727 317.676033
L 396.594182 315.462039
L 399.099636 313.248044
L 401.605091 311.03405
L 404.110545 308.820055
L 406.616 306.606061
L 409.121455 304.392066
L 411.626909 302.178072
L 414.132364 299.964077
L 416.637818 297.750083
L 419.143273 295.536088
L 421.648727 293.322094
L 424.154182 291.108099
L 426.659636 288.894105
L 429.165091 286.68011
L 431.670545 284.466116
L 434.176 282.252121
L 436.681455 280.038127
L 439.186909 277.824132
L 441.692364 275.610138
L 444.197818 273.396143
L 446.703273 271.182149
L 449.208727 268.968154
L 451.714182 266.75416
L 454.219636 264.540165
L 456.725091 262.326171
L 459.230545 260.112176
L 461.736 257.898182
L 464.241455 255.684187
L 466.746909 253.470193
L 469.252364 251.256198
L 471.757818 249.042204
L 474.263273 246.828209
L 476.768727 244.614215
L 479.274182 242.40022
L 481.779636 240.186226
L 484.285091 237.972231
L 486.790545 235.758237
L 489.296 233.544242
L 491.801455 231.330248
L 494.306909 229.116253
L 496.812364 226.902259
L 499.317818 224.688264
L 501.823273 222.47427
L 504.328727 220.260275
L 506.834182 218.046281
L 509.339636 215.832287
L 511.845091 213.618292
L 514.350545 211.404298
L 516.856 209.190303
L 519.361455 206.976309
L 521.866909 204.762314
L 524.372364 202.54832
L 526.877818 200.334325
L 529.383273 198.120331
L 531.888727 195.906336
L 534.394182 193.692342
L 536.899636 191.478347
L 539.405091 189.264353
L 541.910545 187.050358
L 544.416 184.836364
L 546.921455 182.622369
L 549.426909 180.408375
L 551.932364 178.19438
L 554.437818 175.980386
L 556.943273 173.766391
L 559.448727 171.552397
L 561.954182 169.338402
L 564.459636 167.124408
L 566.965091 164.910413
L 569.470545 162.696419
L 571.976 160.482424
L 574.481455 158.26843
L 576.986909 156.054435
L 579.492364 153.840441
L 581.997818 151.626446
L 584.503273 149.412452
L 587.008727 147.198457
L 589.514182 144.984463
L 592.019636 142.770468
L 594.525091 140.556474
L 597.030545 138.342479
L 599.536 136.128485
L 602.041455 133.91449
L 604.546909 131.700496
L 607.052364 129.486501
L 609.557818 127.272507
L 612.063273 125.058512
L 614.568727 122.844518
L 617.074182 120.630523
L 619.579636 118.416529
L 622.085091 116.202534
L 624.590545 113.98854
L 627.096 111.774545
" clip-path="url(#p47d98718e2)" style="fill: none; stroke: #0000ff; stroke-width: 3; stroke-linecap: square"/>
</g>
<g id="patch_8">
<path d="M 379.056 330.96
L 379.056 89.856
" style="fill: none; stroke: #000000; stroke-width: 0.8; stroke-linejoin: miter; stroke-linecap: square"/>
</g>
<g id="patch_9">
<path d="M 627.096 330.96
L 627.096 89.856
" style="fill: none; stroke: #000000; stroke-width: 0.8; stroke-linejoin: miter; stroke-linecap: square"/>
</g>
<g id="patch_10">
<path d="M 379.056 330.96
L 627.096 330.96
" style="fill: none; stroke: #000000; stroke-width: 0.8; stroke-linejoin: miter; stroke-linecap: square"/>
</g>
<g id="patch_11">
<path d="M 379.056 89.856
L 627.096 89.856
" style="fill: none; stroke: #000000; stroke-width: 0.8; stroke-linejoin: miter; stroke-linecap: square"/>
</g>
<g id="title2" transform="translate(-0.1920 0.2400)">
<text style="font-weight: 700; font-size: 12px; font-family: 'DejaVu Sans', sans-serif; text-anchor: middle" x="503.076" y="83.856" transform="rotate(-0 503.076 83.856)">Member Compatibility: Discrete vs Continuous</text>
</g>
<g id="legend_2">
<g id="leg2_frame">
<path d="M 466.0380 326.2200
L 620.4360 326.2200
Q 622.2360 326.2200 622.2360 324.4200
L 622.2360 277.9114
Q 622.2360 276.1114 620.4360 276.1114
L 466.0380 276.1114
Q 464.2380 276.1114 464.2380 277.9114
L 464.2380 324.4200
Q 464.2380 326.2200 466.0380 326.2200
z
" style="fill: #ffffff; opacity: 0.8; stroke: #cccccc; stroke-linejoin: miter"/>
</g>
<g id="leg2_handle0" transform="translate(0.6480 -1.4640)">
<path d="M 467.166 287.797969
L 485.166 287.797969
L 485.166 281.497969
L 467.166 281.497969
z
" style="fill: #ff0000; fill-opacity: 0.3; stroke: #ff0000; stroke-opacity: 0.3; stroke-linejoin: miter"/>
</g>
<g id="leg2_text0" transform="translate(0.7200 -1.3920)">
<text style="font-size: 9px; font-family: 'DejaVu Sans', sans-serif; text-anchor: start" x="492.366" y="287.797969" transform="rotate(-0 492.366 287.797969)">Current: mixed type = 0.7</text>
</g>
<g id="leg2_handle1" transform="translate(0.6480 -1.5600)">
<path d="M 467.166 301.008281
L 485.166 301.008281
L 485.166 294.708281
L 467.166 294.708281
z
" style="fill: #008000; fill-opacity: 0.3; stroke: #008000; stroke-opacity: 0.3; stroke-linejoin: miter"/>
</g>
<g id="leg2_text1" transform="translate(0.7200 -1.3680)">
<text style="font-size: 9px; font-family: 'DejaVu Sans', sans-serif; text-anchor: start" x="492.366" y="301.008281" transform="rotate(-0 492.366 301.008281)">Current: same type = 1.0</text>
</g>
<g id="leg2_handle2" transform="translate(0.6480 -0.8160)">
<path d="M 467.166 314.49
L 476.166 314.49
L 485.166 314.49
" style="fill: none; stroke: #0000ff; stroke-width: 3; stroke-linecap: square"/>
</g>
<g id="leg2_text2" transform="translate(0.7200 0.0000)">
<g transform="translate(492.366 317.64)">
<text>
<tspan x="0" y="-0.754687" style="font-size: 9px; font-family: 'DejaVu Sans', sans-serif">P</tspan>
<tspan x="5.427246" y="-0.754687" style="font-size: 9px; font-family: 'DejaVu Sans', sans-serif">r</tspan>
<tspan x="9.127441" y="-0.754687" style="font-size: 9px; font-family: 'DejaVu Sans', sans-serif">o</tspan>
<tspan x="14.633789" y="-0.754687" style="font-size: 9px; font-family: 'DejaVu Sans', sans-serif">p</tspan>
<tspan x="20.34668" y="-0.754687" style="font-size: 9px; font-family: 'DejaVu Sans', sans-serif">o</tspan>
<tspan x="25.853027" y="-0.754687" style="font-size: 9px; font-family: 'DejaVu Sans', sans-serif">s</tspan>
<tspan x="30.541992" y="-0.754687" style="font-size: 9px; font-family: 'DejaVu Sans', sans-serif">e</tspan>
<tspan x="36.079102" y="-0.754687" style="font-size: 9px; font-family: 'DejaVu Sans', sans-serif">d</tspan>
<tspan x="41.791992" y="-0.754687" style="font-size: 9px; font-family: 'DejaVu Sans', sans-serif">:</tspan>
<tspan x="44.824219" y="-0.754687" style="font-size: 9px; font-family: 'DejaVu Sans', sans-serif"> </tspan>
<tspan x="60.837891" y="-0.754687" style="font-size: 9px; font-family: 'DejaVu Sans', sans-serif">=</tspan>
<tspan x="70.132324" y="-0.754687" style="font-size: 9px; font-family: 'DejaVu Sans', sans-serif">1</tspan>
<tspan x="77.611816" y="-0.754687" style="font-size: 9px; font-family: 'DejaVu Sans', sans-serif">−</tspan>
<tspan x="47.685059" y="-0.754687" style="font-style: oblique; font-size: 9px; font-family: 'DejaVu Sans', sans-serif">S</tspan>
<tspan x="53.397949" y="-0.754687" style="font-style: oblique; font-size: 9px; font-family: 'DejaVu Sans', sans-serif">E</tspan>
<tspan x="86.90625" y="-6.1875" style="font-size: 6.3px; font-family: 'DejaVu Sans', sans-serif">|</tspan>
<tspan x="86.90625" y="2.925" style="font-size: 6.3px; font-family: 'DejaVu Sans', sans-serif">|</tspan>
<tspan x="93.741504" y="-6.1875" style="font-size: 6.3px; font-family: 'DejaVu Sans', sans-serif">(</tspan>
<tspan x="93.741504" y="2.925" style="font-size: 6.3px; font-family: 'DejaVu Sans', sans-serif">(</tspan>
<tspan x="100.192236" y="-6.1875" style="font-size: 6.3px; font-family: 'DejaVu Sans', sans-serif">)</tspan>
<tspan x="100.192236" y="2.925" style="font-size: 6.3px; font-family: 'DejaVu Sans', sans-serif">)</tspan>
<tspan x="103.87749" y="-6.1875" style="font-size: 6.3px; font-family: 'DejaVu Sans', sans-serif">△</tspan>
<tspan x="103.87749" y="2.925" style="font-size: 6.3px; font-family: 'DejaVu Sans', sans-serif">∪</tspan>
<tspan x="114.42876" y="2.925" style="font-size: 6.3px; font-family: 'DejaVu Sans', sans-serif">(</tspan>
<tspan x="114.662549" y="-6.1875" style="font-size: 6.3px; font-family: 'DejaVu Sans', sans-serif">(</tspan>
<tspan x="120.614941" y="2.925" style="font-size: 6.3px; font-family: 'DejaVu Sans', sans-serif">)</tspan>
<tspan x="120.84873" y="-6.1875" style="font-size: 6.3px; font-family: 'DejaVu Sans', sans-serif">)</tspan>
<tspan x="123.072803" y="2.925" style="font-size: 6.3px; font-family: 'DejaVu Sans', sans-serif">|</tspan>
<tspan x="123.306592" y="-6.1875" style="font-size: 6.3px; font-family: 'DejaVu Sans', sans-serif">|</tspan>
<tspan x="89.028809" y="-6.1875" style="font-style: oblique; font-size: 6.3px; font-family: 'DejaVu Sans', sans-serif">N</tspan>
<tspan x="89.028809" y="2.925" style="font-style: oblique; font-size: 6.3px; font-family: 'DejaVu Sans', sans-serif">N</tspan>
<tspan x="96.199365" y="-6.1875" style="font-style: oblique; font-size: 6.3px; font-family: 'DejaVu Sans', sans-serif">u</tspan>
<tspan x="96.199365" y="2.925" style="font-style: oblique; font-size: 6.3px; font-family: 'DejaVu Sans', sans-serif">u</tspan>
<tspan x="109.716064" y="2.925" style="font-style: oblique; font-size: 6.3px; font-family: 'DejaVu Sans', sans-serif">N</tspan>
<tspan x="109.949854" y="-6.1875" style="font-style: oblique; font-size: 6.3px; font-family: 'DejaVu Sans', sans-serif">N</tspan>
<tspan x="116.886621" y="2.925" style="font-style: oblique; font-size: 6.3px; font-family: 'DejaVu Sans', sans-serif">v</tspan>
<tspan x="117.12041" y="-6.1875" style="font-style: oblique; font-size: 6.3px; font-family: 'DejaVu Sans', sans-serif">v</tspan>
</text>
<rect x="87.0263" y="-2.8688" width="38.9309" height="0.5040"/>
</g>
</g>
</g>
</g>
<g id="axes_3">
<g id="patch_12">
<path d="M 701.4 330.96
L 949.44 330.96
L 949.44 89.856
L 701.4 89.856
z
" style="fill: #ffffff"/>
</g>
<g id="matplotlib.axis_5">
<g id="xtick_11">
<g id="line2d_48">
<path d="M 712.674545 330.96
L 712.674545 89.856
" clip-path="url(#p8696d32031)" style="fill: none; stroke: #b0b0b0; stroke-opacity: 0.3; stroke-width: 0.8; stroke-linecap: square"/>
</g>
<g id="line2d_49">
<g>
<use href="#m7c25c535dc" x="712.674545" y="330.96" style="stroke: #000000; stroke-width: 0.8"/>
</g>
</g>
<g id="text_23">
<text style="font-size: 10px; font-family: 'DejaVu Sans', sans-serif; text-anchor: middle" x="712.674545" y="345.558437" transform="rotate(-0 712.674545 345.558437)">1</text>
</g>
</g>
<g id="xtick_12">
<g id="line2d_50">
<path d="M 737.729091 330.96
L 737.729091 89.856
" clip-path="url(#p8696d32031)" style="fill: none; stroke: #b0b0b0; stroke-opacity: 0.3; stroke-width: 0.8; stroke-linecap: square"/>
</g>
<g id="line2d_51">
<g>
<use href="#m7c25c535dc" x="737.729091" y="330.96" style="stroke: #000000; stroke-width: 0.8"/>
</g>
</g>
<g id="text_24">
<text style="font-size: 10px; font-family: 'DejaVu Sans', sans-serif; text-anchor: middle" x="737.729091" y="345.558437" transform="rotate(-0 737.729091 345.558437)">2</text>
</g>
</g>
<g id="xtick_13">
<g id="line2d_52">
<path d="M 762.783636 330.96
L 762.783636 89.856
" clip-path="url(#p8696d32031)" style="fill: none; stroke: #b0b0b0; stroke-opacity: 0.3; stroke-width: 0.8; stroke-linecap: square"/>
</g>
<g id="line2d_53">
<g>
<use href="#m7c25c535dc" x="762.783636" y="330.96" style="stroke: #000000; stroke-width: 0.8"/>
</g>
</g>
<g id="text_25">
<text style="font-size: 10px; font-family: 'DejaVu Sans', sans-serif; text-anchor: middle" x="762.783636" y="345.558437" transform="rotate(-0 762.783636 345.558437)">3</text>
</g>
</g>
<g id="xtick_14">
<g id="line2d_54">
<path d="M 787.838182 330.96
L 787.838182 89.856
" clip-path="url(#p8696d32031)" style="fill: none; stroke: #b0b0b0; stroke-opacity: 0.3; stroke-width: 0.8; stroke-linecap: square"/>
</g>
<g id="line2d_55">
<g>
<use href="#m7c25c535dc" x="787.838182" y="330.96" style="stroke: #000000; stroke-width: 0.8"/>
</g>
</g>
<g id="text_26">
<text style="font-size: 10px; font-family: 'DejaVu Sans', sans-serif; text-anchor: middle" x="787.838182" y="345.558437" transform="rotate(-0 787.838182 345.558437)">4</text>
</g>
</g>
<g id="xtick_15">
<g id="line2d_56">
<path d="M 812.892727 330.96
L 812.892727 89.856
" clip-path="url(#p8696d32031)" style="fill: none; stroke: #b0b0b0; stroke-opacity: 0.3; stroke-width: 0.8; stroke-linecap: square"/>
</g>
<g id="line2d_57">
<g>
<use href="#m7c25c535dc" x="812.892727" y="330.96" style="stroke: #000000; stroke-width: 0.8"/>
</g>
</g>
<g id="text_27">
<text style="font-size: 10px; font-family: 'DejaVu Sans', sans-serif; text-anchor: middle" x="812.892727" y="345.558437" transform="rotate(-0 812.892727 345.558437)">5</text>
</g>
</g>
<g id="xtick_16">
<g id="line2d_58">
<path d="M 837.947273 330.96
L 837.947273 89.856
" clip-path="url(#p8696d32031)" style="fill: none; stroke: #b0b0b0; stroke-opacity: 0.3; stroke-width: 0.8; stroke-linecap: square"/>
</g>
<g id="line2d_59">
<g>
<use href="#m7c25c535dc" x="837.947273" y="330.96" style="stroke: #000000; stroke-width: 0.8"/>
</g>
</g>
<g id="text_28">
<text style="font-size: 10px; font-family: 'DejaVu Sans', sans-serif; text-anchor: middle" x="837.947273" y="345.558437" transform="rotate(-0 837.947273 345.558437)">6</text>
</g>
</g>
<g id="xtick_17">
<g id="line2d_60">
<path d="M 863.001818 330.96
L 863.001818 89.856
" clip-path="url(#p8696d32031)" style="fill: none; stroke: #b0b0b0; stroke-opacity: 0.3; stroke-width: 0.8; stroke-linecap: square"/>
</g>
<g id="line2d_61">
<g>
<use href="#m7c25c535dc" x="863.001818" y="330.96" style="stroke: #000000; stroke-width: 0.8"/>
</g>
</g>
<g id="text_29">
<text style="font-size: 10px; font-family: 'DejaVu Sans', sans-serif; text-anchor: middle" x="863.001818" y="345.558437" transform="rotate(-0 863.001818 345.558437)">7</text>
</g>
</g>
<g id="xtick_18">
<g id="line2d_62">
<path d="M 888.056364 330.96
L 888.056364 89.856
" clip-path="url(#p8696d32031)" style="fill: none; stroke: #b0b0b0; stroke-opacity: 0.3; stroke-width: 0.8; stroke-linecap: square"/>
</g>
<g id="line2d_63">
<g>
<use href="#m7c25c535dc" x="888.056364" y="330.96" style="stroke: #000000; stroke-width: 0.8"/>
</g>
</g>
<g id="text_30">
<text style="font-size: 10px; font-family: 'DejaVu Sans', sans-serif; text-anchor: middle" x="888.056364" y="345.558437" transform="rotate(-0 888.056364 345.558437)">8</text>
</g>
</g>
<g id="xtick_19">
<g id="line2d_64">
<path d="M 913.110909 330.96
L 913.110909 89.856
" clip-path="url(#p8696d32031)" style="fill: none; stroke: #b0b0b0; stroke-opacity: 0.3; stroke-width: 0.8; stroke-linecap: square"/>
</g>
<g id="line2d_65">
<g>
<use href="#m7c25c535dc" x="913.110909" y="330.96" style="stroke: #000000; stroke-width: 0.8"/>
</g>
</g>
<g id="text_31">
<text style="font-size: 10px; font-family: 'DejaVu Sans', sans-serif; text-anchor: middle" x="913.110909" y="345.558437" transform="rotate(-0 913.110909 345.558437)">9</text>
</g>
</g>
<g id="xtick_20">
<g id="line2d_66">
<path d="M 938.165455 330.96
L 938.165455 89.856
" clip-path="url(#p8696d32031)" style="fill: none; stroke: #b0b0b0; stroke-opacity: 0.3; stroke-width: 0.8; stroke-linecap: square"/>
</g>
<g id="line2d_67">
<g>
<use href="#m7c25c535dc" x="938.165455" y="330.96" style="stroke: #000000; stroke-width: 0.8"/>
</g>
</g>
<g id="text_32">
<text style="font-size: 10px; font-family: 'DejaVu Sans', sans-serif; text-anchor: middle" x="938.165455" y="345.558437" transform="rotate(-0 938.165455 345.558437)">10</text>
</g>
</g>
<g id="xlabel3">
<text style="font-size: 11px; font-family: 'DejaVu Sans', sans-serif; text-anchor: middle" x="825.42" y="359.996406" transform="rotate(-0 825.42 359.996406)">Group Size</text>
</g>
</g>
<g id="matplotlib.axis_6">
<g id="ytick_13">
<g id="line2d_68">
<path d="M 701.4 285.392498
L 949.44 285.392498
" clip-path="url(#p8696d32031)" style="fill: none; stroke: #b0b0b0; stroke-opacity: 0.3; stroke-width: 0.8; stroke-linecap: square"/>
</g>
<g id="line2d_69">
<g>
<use href="#mb258c49b38" x="701.4" y="285.392498" style="stroke: #000000; stroke-width: 0.8"/>
</g>
</g>
<g id="text_33">
<text style="font-size: 10px; font-family: 'DejaVu Sans', sans-serif; text-anchor: end" x="694.4" y="289.191716" transform="rotate(-0 694.4 289.191716)">20</text>
</g>
</g>
<g id="ytick_14">
<g id="line2d_70">
<path d="M 701.4 239.248191
L 949.44 239.248191
" clip-path="url(#p8696d32031)" style="fill: none; stroke: #b0b0b0; stroke-opacity: 0.3; stroke-width: 0.8; stroke-linecap: square"/>
</g>
<g id="line2d_71">
<g>
<use href="#mb258c49b38" x="701.4" y="239.248191" style="stroke: #000000; stroke-width: 0.8"/>
</g>
</g>
<g id="text_34">
<text style="font-size: 10px; font-family: 'DejaVu Sans', sans-serif; text-anchor: end" x="694.4" y="243.04741" transform="rotate(-0 694.4 243.04741)">40</text>
</g>
</g>
<g id="ytick_15">
<g id="line2d_72">
<path d="M 701.4 193.103885
L 949.44 193.103885
" clip-path="url(#p8696d32031)" style="fill: none; stroke: #b0b0b0; stroke-opacity: 0.3; stroke-width: 0.8; stroke-linecap: square"/>
</g>
<g id="line2d_73">
<g>
<use href="#mb258c49b38" x="701.4" y="193.103885" style="stroke: #000000; stroke-width: 0.8"/>
</g>
</g>
<g id="text_35">
<text style="font-size: 10px; font-family: 'DejaVu Sans', sans-serif; text-anchor: end" x="694.4" y="196.903104" transform="rotate(-0 694.4 196.903104)">60</text>
</g>
</g>
<g id="ytick_16">
<g id="line2d_74">
<path d="M 701.4 146.959579
L 949.44 146.959579
" clip-path="url(#p8696d32031)" style="fill: none; stroke: #b0b0b0; stroke-opacity: 0.3; stroke-width: 0.8; stroke-linecap: square"/>
</g>
<g id="line2d_75">
<g>
<use href="#mb258c49b38" x="701.4" y="146.959579" style="stroke: #000000; stroke-width: 0.8"/>
</g>
</g>
<g id="text_36">
<text style="font-size: 10px; font-family: 'DejaVu Sans', sans-serif; text-anchor: end" x="694.4" y="150.758798" transform="rotate(-0 694.4 150.758798)">80</text>
</g>
</g>
<g id="ytick_17">
<g id="line2d_76">
<path d="M 701.4 100.815273
L 949.44 100.815273
" clip-path="url(#p8696d32031)" style="fill: none; stroke: #b0b0b0; stroke-opacity: 0.3; stroke-width: 0.8; stroke-linecap: square"/>
</g>
<g id="line2d_77">
<g>
<use href="#mb258c49b38" x="701.4" y="100.815273" style="stroke: #000000; stroke-width: 0.8"/>
</g>
</g>
<g id="text_37">
<text style="font-size: 10px; font-family: 'DejaVu Sans', sans-serif; text-anchor: end" x="694.4" y="104.614491" transform="rotate(-0 694.4 104.614491)">100</text>
</g>
</g>
<g id="ylabel3" transform="translate(-0.4800 0.2400)">
<text style="font-size: 11px; font-family: 'DejaVu Sans', sans-serif; text-anchor: middle" x="669.024844" y="210.408" transform="rotate(-90 669.024844 210.408)">Length Factor</text>
</g>
</g>
<g id="line2d_78">
<path d="M 712.674545 320.000727
L 737.729091 285.392498
L 762.783636 193.103885
L 787.838182 123.887426
L 812.892727 123.887426
L 837.947273 123.887426
L 863.001818 123.887426
L 888.056364 123.887426
L 913.110909 123.887426
L 938.165455 123.887426
" clip-path="url(#p8696d32031)" style="fill: none; stroke: #ff0000; stroke-width: 2; stroke-linecap: square"/>
<defs>
<path id="m000e5e8076" d="M -4 4
L 4 4
L 4 -4
L -4 -4
z
" style="stroke: #ff0000; stroke-linejoin: miter"/>
</defs>
<g clip-path="url(#p8696d32031)">
<use href="#m000e5e8076" x="712.674545" y="320.000727" style="fill: #ff0000; stroke: #ff0000; stroke-linejoin: miter"/>
<use href="#m000e5e8076" x="737.729091" y="285.392498" style="fill: #ff0000; stroke: #ff0000; stroke-linejoin: miter"/>
<use href="#m000e5e8076" x="762.783636" y="193.103885" style="fill: #ff0000; stroke: #ff0000; stroke-linejoin: miter"/>
<use href="#m000e5e8076" x="787.838182" y="123.887426" style="fill: #ff0000; stroke: #ff0000; stroke-linejoin: miter"/>
<use href="#m000e5e8076" x="812.892727" y="123.887426" style="fill: #ff0000; stroke: #ff0000; stroke-linejoin: miter"/>
<use href="#m000e5e8076" x="837.947273" y="123.887426" style="fill: #ff0000; stroke: #ff0000; stroke-linejoin: miter"/>
<use href="#m000e5e8076" x="863.001818" y="123.887426" style="fill: #ff0000; stroke: #ff0000; stroke-linejoin: miter"/>
<use href="#m000e5e8076" x="888.056364" y="123.887426" style="fill: #ff0000; stroke: #ff0000; stroke-linejoin: miter"/>
<use href="#m000e5e8076" x="913.110909" y="123.887426" style="fill: #ff0000; stroke: #ff0000; stroke-linejoin: miter"/>
<use href="#m000e5e8076" x="938.165455" y="123.887426" style="fill: #ff0000; stroke: #ff0000; stroke-linejoin: miter"/>
</g>
</g>
<g id="line2d_79">
<path d="M 712.674545 320.000727
L 737.729091 100.815273
L 762.783636 100.815273
L 787.838182 100.815273
L 812.892727 146.959579
L 837.947273 177.72245
L 863.001818 188.709189
L 888.056364 199.695929
L 913.110909 209.767107
L 938.165455 218.739611
" clip-path="url(#p8696d32031)" style="fill: none; stroke: #0000ff; stroke-width: 2; stroke-linecap: square"/>
<defs>
<path id="mdf9dcd0c0b" d="M 0 -4
L -4 4
L 4 4
z
" style="stroke: #0000ff; stroke-linejoin: miter"/>
</defs>
<g clip-path="url(#p8696d32031)">
<use href="#mdf9dcd0c0b" x="712.674545" y="320.000727" style="fill: #0000ff; stroke: #0000ff; stroke-linejoin: miter"/>
<use href="#mdf9dcd0c0b" x="737.729091" y="100.815273" style="fill: #0000ff; stroke: #0000ff; stroke-linejoin: miter"/>
<use href="#mdf9dcd0c0b" x="762.783636" y="100.815273" style="fill: #0000ff; stroke: #0000ff; stroke-linejoin: miter"/>
<use href="#mdf9dcd0c0b" x="787.838182" y="100.815273" style="fill: #0000ff; stroke: #0000ff; stroke-linejoin: miter"/>
<use href="#mdf9dcd0c0b" x="812.892727" y="146.959579" style="fill: #0000ff; stroke: #0000ff; stroke-linejoin: miter"/>
<use href="#mdf9dcd0c0b" x="837.947273" y="177.72245" style="fill: #0000ff; stroke: #0000ff; stroke-linejoin: miter"/>
<use href="#mdf9dcd0c0b" x="863.001818" y="188.709189" style="fill: #0000ff; stroke: #0000ff; stroke-linejoin: miter"/>
<use href="#mdf9dcd0c0b" x="888.056364" y="199.695929" style="fill: #0000ff; stroke: #0000ff; stroke-linejoin: miter"/>
<use href="#mdf9dcd0c0b" x="913.110909" y="209.767107" style="fill: #0000ff; stroke: #0000ff; stroke-linejoin: miter"/>
<use href="#mdf9dcd0c0b" x="938.165455" y="218.739611" style="fill: #0000ff; stroke: #0000ff; stroke-linejoin: miter"/>
</g>
</g>
<g id="patch_13">
<path d="M 701.4 330.96
L 701.4 89.856
" style="fill: none; stroke: #000000; stroke-width: 0.8; stroke-linejoin: miter; stroke-linecap: square"/>
</g>
<g id="patch_14">
<path d="M 949.44 330.96
L 949.44 89.856
" style="fill: none; stroke: #000000; stroke-width: 0.8; stroke-linejoin: miter; stroke-linecap: square"/>
</g>
<g id="patch_15">
<path d="M 701.4 330.96
L 949.44 330.96
" style="fill: none; stroke: #000000; stroke-width: 0.8; stroke-linejoin: miter; stroke-linecap: square"/>
</g>
<g id="patch_16">
<path d="M 701.4 89.856
L 949.44 89.856
" style="fill: none; stroke: #000000; stroke-width: 0.8; stroke-linejoin: miter; stroke-linecap: square"/>
</g>
<g id="title3" transform="translate(-0.1920 0.2400)">
<text style="font-weight: 700; font-size: 12px; font-family: 'DejaVu Sans', sans-serif; text-anchor: middle" x="825.42" y="83.856" transform="rotate(-0 825.42 83.856)">Group Importance: Step Function vs Density</text>
</g>
<g id="legend_3">
<g id="leg3_frame">
<path d="M 768.8320 325.7680
L 942.4400 325.7680
Q 944.4400 325.7680 944.4400 323.7680
L 944.4400 287.3139
Q 944.4400 285.3139 942.4400 285.3139
L 768.8320 285.3139
Q 766.8320 285.3139 766.8320 287.3139
L 766.8320 323.7680
Q 766.8320 325.7680 768.8320 325.7680
z
" style="fill: #ffffff; opacity: 0.8; stroke: #cccccc; stroke-linejoin: miter"/>
</g>
<g id="leg3_handle0" transform="translate(0.0000 -0.7440)">
<path d="M 770.64 294.180313
L 780.64 294.180313
L 790.64 294.180313
" style="fill: none; stroke: #ff0000; stroke-width: 2; stroke-linecap: square"/>
<g>
<use href="#m000e5e8076" x="780.64" y="294.180313" style="fill: #ff0000; stroke: #ff0000; stroke-linejoin: miter"/>
</g>
</g>
<g id="leg3_text0" transform="translate(0.0000 -0.5760)">
<text style="font-size: 10px; font-family: 'DejaVu Sans', sans-serif; text-anchor: start" x="798.64" y="297.680313" transform="rotate(-0 798.64 297.680313)">Current: Step function</text>
</g>
<g id="leg3_handle1" transform="translate(0.0000 -0.5520)">
<path d="M 770.64 312.66
L 780.64 312.66
L 790.64 312.66
" style="fill: none; stroke: #0000ff; stroke-width: 2; stroke-linecap: square"/>
<g>
<use href="#mdf9dcd0c0b" x="780.64" y="312.66" style="fill: #0000ff; stroke: #0000ff; stroke-linejoin: miter"/>
</g>
</g>
<g id="leg3_text1">
<g transform="translate(798.64 316.16)">
<text>
<tspan x="0" y="-0.617188" style="font-size: 10px; font-family: 'DejaVu Sans', sans-serif">P</tspan>
<tspan x="6.030273" y="-0.617188" style="font-size: 10px; font-family: 'DejaVu Sans', sans-serif">r</tspan>
<tspan x="10.141602" y="-0.617188" style="font-size: 10px; font-family: 'DejaVu Sans', sans-serif">o</tspan>
<tspan x="16.259766" y="-0.617188" style="font-size: 10px; font-family: 'DejaVu Sans', sans-serif">p</tspan>
<tspan x="22.607422" y="-0.617188" style="font-size: 10px; font-family: 'DejaVu Sans', sans-serif">o</tspan>
<tspan x="28.725586" y="-0.617188" style="font-size: 10px; font-family: 'DejaVu Sans', sans-serif">s</tspan>
<tspan x="33.935547" y="-0.617188" style="font-size: 10px; font-family: 'DejaVu Sans', sans-serif">e</tspan>
<tspan x="40.087891" y="-0.617188" style="font-size: 10px; font-family: 'DejaVu Sans', sans-serif">d</tspan>
<tspan x="46.435547" y="-0.617188" style="font-size: 10px; font-family: 'DejaVu Sans', sans-serif">:</tspan>
<tspan x="49.804688" y="-0.617188" style="font-size: 10px; font-family: 'DejaVu Sans', sans-serif"> </tspan>
<tspan x="61.279297" y="-0.617188" style="font-size: 10px; font-family: 'DejaVu Sans', sans-serif">=</tspan>
<tspan x="112.32373" y="-0.617188" style="font-size: 10px; font-family: 'DejaVu Sans', sans-serif">×</tspan>
<tspan x="122.650879" y="-0.617188" style="font-size: 10px; font-family: 'DejaVu Sans', sans-serif">1</tspan>
<tspan x="129.013184" y="-0.617188" style="font-size: 10px; font-family: 'DejaVu Sans', sans-serif">0</tspan>
<tspan x="135.375488" y="-0.617188" style="font-size: 10px; font-family: 'DejaVu Sans', sans-serif">0</tspan>
<tspan x="52.983398" y="-0.617188" style="font-style: oblique; font-size: 10px; font-family: 'DejaVu Sans', sans-serif">ρ</tspan>
<tspan x="71.606445" y="3.473437" style="font-size: 7px; font-family: 'DejaVu Sans', sans-serif">|</tspan>
<tspan x="78.753418" y="3.473437" style="font-size: 7px; font-family: 'DejaVu Sans', sans-serif">|</tspan>
<tspan x="81.111816" y="3.473437" style="font-size: 7px; font-family: 'DejaVu Sans', sans-serif">(</tspan>
<tspan x="83.606445" y="-6.651563" style="font-size: 7px; font-family: 'DejaVu Sans', sans-serif">2</tspan>
<tspan x="83.842773" y="3.473437" style="font-size: 7px; font-family: 'DejaVu Sans', sans-serif">|</tspan>
<tspan x="88.060059" y="-6.651563" style="font-size: 7px; font-family: 'DejaVu Sans', sans-serif">|</tspan>
<tspan x="90.989746" y="3.473437" style="font-size: 7px; font-family: 'DejaVu Sans', sans-serif">|</tspan>
<tspan x="94.711914" y="3.473437" style="font-size: 7px; font-family: 'DejaVu Sans', sans-serif">−</tspan>
<tspan x="94.841309" y="-6.651563" style="font-size: 7px; font-family: 'DejaVu Sans', sans-serif">|</tspan>
<tspan x="101.940918" y="3.473437" style="font-size: 7px; font-family: 'DejaVu Sans', sans-serif">1</tspan>
<tspan x="106.394531" y="3.473437" style="font-size: 7px; font-family: 'DejaVu Sans', sans-serif">)</tspan>
<tspan x="73.964844" y="3.473437" style="font-style: oblique; font-size: 7px; font-family: 'DejaVu Sans', sans-serif">V</tspan>
<tspan x="86.201172" y="3.473437" style="font-style: oblique; font-size: 7px; font-family: 'DejaVu Sans', sans-serif">V</tspan>
<tspan x="90.418457" y="-6.651563" style="font-style: oblique; font-size: 7px; font-family: 'DejaVu Sans', sans-serif">E</tspan>
</text>
<rect x="71.8464" y="-3.0435" width="37.9270" height="0.4800"/>
</g>
</g>
</g>
</g>
<g id="axes_4">
<g id="patch_17">
<path d="M 56.52 644.4
L 304.56 644.4
L 304.56 403.296
L 56.52 403.296
z
" style="fill: #ffffff"/>
</g>
<g id="patch_18">
<path d="M 67.794545 644.4
L 77.598498 644.4
L 77.598498 414.777143
L 67.794545 414.777143
z
" clip-path="url(#pd44d3f12e1)" style="fill: #ff0000; opacity: 0.7"/>
</g>
<g id="patch_19">
<path d="M 107.010356 644.4
L 116.814308 644.4
L 116.814308 414.777143
L 107.010356 414.777143
z
" clip-path="url(#pd44d3f12e1)" style="fill: #ff0000; opacity: 0.7"/>
</g>
<g id="patch_20">
<path d="M 146.226166 644.4
L 156.030119 644.4
L 156.030119 414.777143
L 146.226166 414.777143
z
" clip-path="url(#pd44d3f12e1)" style="fill: #ff0000; opacity: 0.7"/>
</g>
<g id="patch_21">
<path d="M 185.441976 644.4
L 195.245929 644.4
L 195.245929 414.777143
L 185.441976 414.777143
z
" clip-path="url(#pd44d3f12e1)" style="fill: #ff0000; opacity: 0.7"/>
</g>
<g id="patch_22">
<path d="M 224.657787 644.4
L 234.461739 644.4
L 234.461739 414.777143
L 224.657787 414.777143
z
" clip-path="url(#pd44d3f12e1)" style="fill: #ff0000; opacity: 0.7"/>
</g>
<g id="patch_23">
<path d="M 263.873597 644.4
L 273.677549 644.4
L 273.677549 414.777143
L 263.873597 414.777143
z
" clip-path="url(#pd44d3f12e1)" style="fill: #ff0000; opacity: 0.7"/>
</g>
<g id="patch_24">
<path d="M 77.598498 644.4
L 87.402451 644.4
L 87.402451 586.994286
L 77.598498 586.994286
z
" clip-path="url(#pd44d3f12e1)" style="fill: #ffa500; opacity: 0.7"/>
</g>
<g id="patch_25">
<path d="M 116.814308 644.4
L 126.618261 644.4
L 126.618261 586.994286
L 116.814308 586.994286
z
" clip-path="url(#pd44d3f12e1)" style="fill: #ffa500; opacity: 0.7"/>
</g>
<g id="patch_26">
<path d="M 156.030119 644.4
L 165.834071 644.4
L 165.834071 586.994286
L 156.030119 586.994286
z
" clip-path="url(#pd44d3f12e1)" style="fill: #ffa500; opacity: 0.7"/>
</g>
<g id="patch_27">
<path d="M 195.245929 644.4
L 205.049881 644.4
L 205.049881 586.994286
L 195.245929 586.994286
z
" clip-path="url(#pd44d3f12e1)" style="fill: #ffa500; opacity: 0.7"/>
</g>
<g id="patch_28">
<path d="M 234.461739 644.4
L 244.265692 644.4
L 244.265692 586.994286
L 234.461739 586.994286
z
" clip-path="url(#pd44d3f12e1)" style="fill: #ffa500; opacity: 0.7"/>
</g>
<g id="patch_29">
<path d="M 273.677549 644.4
L 283.481502 644.4
L 283.481502 586.994286
L 273.677549 586.994286
z
" clip-path="url(#pd44d3f12e1)" style="fill: #ffa500; opacity: 0.7"/>
</g>
<g id="patch_30">
<path d="M 87.402451 644.4
L 97.206403 644.4
L 97.206403 615.697143
L 87.402451 615.697143
z
" clip-path="url(#pd44d3f12e1)" style="fill: #0000ff; opacity: 0.7"/>
</g>
<g id="patch_31">
<path d="M 126.618261 644.4
L 136.422213 644.4
L 136.422213 529.588571
L 126.618261 529.588571
z
" clip-path="url(#pd44d3f12e1)" style="fill: #0000ff; opacity: 0.7"/>
</g>
<g id="patch_32">
<path d="M 165.834071 644.4
L 175.638024 644.4
L 175.638024 414.777143
L 165.834071 414.777143
z
" clip-path="url(#pd44d3f12e1)" style="fill: #0000ff; opacity: 0.7"/>
</g>
<g id="patch_33">
<path d="M 205.049881 644.4
L 214.853834 644.4
L 214.853834 414.777143
L 205.049881 414.777143
z
" clip-path="url(#pd44d3f12e1)" style="fill: #0000ff; opacity: 0.7"/>
</g>
<g id="patch_34">
<path d="M 244.265692 644.4
L 254.069644 644.4
L 254.069644 529.588571
L 244.265692 529.588571
z
" clip-path="url(#pd44d3f12e1)" style="fill: #0000ff; opacity: 0.7"/>
</g>
<g id="patch_35">
<path d="M 283.481502 644.4
L 293.285455 644.4
L 293.285455 615.697143
L 283.481502 615.697143
z
" clip-path="url(#pd44d3f12e1)" style="fill: #0000ff; opacity: 0.7"/>
</g>
<g id="matplotlib.axis_7">
<g id="xtick_21">
<g id="line2d_80">
<g>
<use href="#m7c25c535dc" x="82.500474" y="644.4" style="stroke: #000000; stroke-width: 0.8"/>
</g>
</g>
<g id="text_38">
<text style="font-size: 10px; font-family: 'DejaVu Sans', sans-serif; text-anchor: middle" x="82.500474" y="658.998437" transform="rotate(-0 82.500474 658.998437)">Left</text>
</g>
</g>
<g id="xtick_22">
<g id="line2d_81">
<g>
<use href="#m7c25c535dc" x="121.716285" y="644.4" style="stroke: #000000; stroke-width: 0.8"/>
</g>
</g>
</g>
<g id="xtick_23">
<g id="line2d_82">
<g>
<use href="#m7c25c535dc" x="160.932095" y="644.4" style="stroke: #000000; stroke-width: 0.8"/>
</g>
</g>
<g id="text_39">
<text style="font-size: 10px; font-family: 'DejaVu Sans', sans-serif; text-anchor: middle" x="160.932095" y="658.998437" transform="rotate(-0 160.932095 658.998437)">Center-L</text>
</g>
</g>
<g id="xtick_24">
<g id="line2d_83">
<g>
<use href="#m7c25c535dc" x="200.147905" y="644.4" style="stroke: #000000; stroke-width: 0.8"/>
</g>
</g>
<g id="text_40">
<text style="font-size: 10px; font-family: 'DejaVu Sans', sans-serif; text-anchor: middle" x="200.147905" y="658.998437" transform="rotate(-0 200.147905 658.998437)">Center-R</text>
</g>
</g>
<g id="xtick_25">
<g id="line2d_84">
<g>
<use href="#m7c25c535dc" x="239.363715" y="644.4" style="stroke: #000000; stroke-width: 0.8"/>
</g>
</g>
</g>
<g id="xtick_26">
<g id="line2d_85">
<g>
<use href="#m7c25c535dc" x="278.579526" y="644.4" style="stroke: #000000; stroke-width: 0.8"/>
</g>
</g>
<g id="text_41">
<text style="font-size: 10px; font-family: 'DejaVu Sans', sans-serif; text-anchor: middle" x="278.579526" y="658.998437" transform="rotate(-0 278.579526 658.998437)">Right</text>
</g>
</g>
<g id="xlabel4">
<text style="font-size: 11px; font-family: 'DejaVu Sans', sans-serif; text-anchor: middle" x="180.54" y="673.436406" transform="rotate(-0 180.54 673.436406)">Object Position in String</text>
</g>
</g>
<g id="matplotlib.axis_8">
<g id="ytick_18">
<g id="line2d_86">
<path d="M 56.52 644.4
L 304.56 644.4
" clip-path="url(#pd44d3f12e1)" style="fill: none; stroke: #b0b0b0; stroke-opacity: 0.3; stroke-width: 0.8; stroke-linecap: square"/>
</g>
<g id="line2d_87">
<g>
<use href="#mb258c49b38" x="56.52" y="644.4" style="stroke: #000000; stroke-width: 0.8"/>
</g>
</g>
<g id="text_42">
<text style="font-size: 10px; font-family: 'DejaVu Sans', sans-serif; text-anchor: end" x="49.52" y="648.199219" transform="rotate(-0 49.52 648.199219)">0.0</text>
</g>
</g>
<g id="ytick_19">
<g id="line2d_88">
<path d="M 56.52 615.697143
L 304.56 615.697143
" clip-path="url(#pd44d3f12e1)" style="fill: none; stroke: #b0b0b0; stroke-opacity: 0.3; stroke-width: 0.8; stroke-linecap: square"/>
</g>
<g id="line2d_89">
<g>
<use href="#mb258c49b38" x="56.52" y="615.697143" style="stroke: #000000; stroke-width: 0.8"/>
</g>
</g>
<g id="text_43">
<text style="font-size: 10px; font-family: 'DejaVu Sans', sans-serif; text-anchor: end" x="49.52" y="619.496362" transform="rotate(-0 49.52 619.496362)">0.1</text>
</g>
</g>
<g id="ytick_20">
<g id="line2d_90">
<path d="M 56.52 586.994286
L 304.56 586.994286
" clip-path="url(#pd44d3f12e1)" style="fill: none; stroke: #b0b0b0; stroke-opacity: 0.3; stroke-width: 0.8; stroke-linecap: square"/>
</g>
<g id="line2d_91">
<g>
<use href="#mb258c49b38" x="56.52" y="586.994286" style="stroke: #000000; stroke-width: 0.8"/>
</g>
</g>
<g id="text_44">
<text style="font-size: 10px; font-family: 'DejaVu Sans', sans-serif; text-anchor: end" x="49.52" y="590.793504" transform="rotate(-0 49.52 590.793504)">0.2</text>
</g>
</g>
<g id="ytick_21">
<g id="line2d_92">
<path d="M 56.52 558.291429
L 304.56 558.291429
" clip-path="url(#pd44d3f12e1)" style="fill: none; stroke: #b0b0b0; stroke-opacity: 0.3; stroke-width: 0.8; stroke-linecap: square"/>
</g>
<g id="line2d_93">
<g>
<use href="#mb258c49b38" x="56.52" y="558.291429" style="stroke: #000000; stroke-width: 0.8"/>
</g>
</g>
<g id="text_45">
<text style="font-size: 10px; font-family: 'DejaVu Sans', sans-serif; text-anchor: end" x="49.52" y="562.090647" transform="rotate(-0 49.52 562.090647)">0.3</text>
</g>
</g>
<g id="ytick_22">
<g id="line2d_94">
<path d="M 56.52 529.588571
L 304.56 529.588571
" clip-path="url(#pd44d3f12e1)" style="fill: none; stroke: #b0b0b0; stroke-opacity: 0.3; stroke-width: 0.8; stroke-linecap: square"/>
</g>
<g id="line2d_95">
<g>
<use href="#mb258c49b38" x="56.52" y="529.588571" style="stroke: #000000; stroke-width: 0.8"/>
</g>
</g>
<g id="text_46">
<text style="font-size: 10px; font-family: 'DejaVu Sans', sans-serif; text-anchor: end" x="49.52" y="533.38779" transform="rotate(-0 49.52 533.38779)">0.4</text>
</g>
</g>
<g id="ytick_23">
<g id="line2d_96">
<path d="M 56.52 500.885714
L 304.56 500.885714
" clip-path="url(#pd44d3f12e1)" style="fill: none; stroke: #b0b0b0; stroke-opacity: 0.3; stroke-width: 0.8; stroke-linecap: square"/>
</g>
<g id="line2d_97">
<g>
<use href="#mb258c49b38" x="56.52" y="500.885714" style="stroke: #000000; stroke-width: 0.8"/>
</g>
</g>
<g id="text_47">
<text style="font-size: 10px; font-family: 'DejaVu Sans', sans-serif; text-anchor: end" x="49.52" y="504.684933" transform="rotate(-0 49.52 504.684933)">0.5</text>
</g>
</g>
<g id="ytick_24">
<g id="line2d_98">
<path d="M 56.52 472.182857
L 304.56 472.182857
" clip-path="url(#pd44d3f12e1)" style="fill: none; stroke: #b0b0b0; stroke-opacity: 0.3; stroke-width: 0.8; stroke-linecap: square"/>
</g>
<g id="line2d_99">
<g>
<use href="#mb258c49b38" x="56.52" y="472.182857" style="stroke: #000000; stroke-width: 0.8"/>
</g>
</g>
<g id="text_48">
<text style="font-size: 10px; font-family: 'DejaVu Sans', sans-serif; text-anchor: end" x="49.52" y="475.982076" transform="rotate(-0 49.52 475.982076)">0.6</text>
</g>
</g>
<g id="ytick_25">
<g id="line2d_100">
<path d="M 56.52 443.48
L 304.56 443.48
" clip-path="url(#pd44d3f12e1)" style="fill: none; stroke: #b0b0b0; stroke-opacity: 0.3; stroke-width: 0.8; stroke-linecap: square"/>
</g>
<g id="line2d_101">
<g>
<use href="#mb258c49b38" x="56.52" y="443.48" style="stroke: #000000; stroke-width: 0.8"/>
</g>
</g>
<g id="text_49">
<text style="font-size: 10px; font-family: 'DejaVu Sans', sans-serif; text-anchor: end" x="49.52" y="447.279219" transform="rotate(-0 49.52 447.279219)">0.7</text>
</g>
</g>
<g id="ytick_26">
<g id="line2d_102">
<path d="M 56.52 414.777143
L 304.56 414.777143
" clip-path="url(#pd44d3f12e1)" style="fill: none; stroke: #b0b0b0; stroke-opacity: 0.3; stroke-width: 0.8; stroke-linecap: square"/>
</g>
<g id="line2d_103">
<g>
<use href="#mb258c49b38" x="56.52" y="414.777143" style="stroke: #000000; stroke-width: 0.8"/>
</g>
</g>
<g id="text_50">
<text style="font-size: 10px; font-family: 'DejaVu Sans', sans-serif; text-anchor: end" x="49.52" y="418.576362" transform="rotate(-0 49.52 418.576362)">0.8</text>
</g>
</g>
<g id="ylabel4" transform="translate(-0.4800 0.2400)">
<text style="font-size: 11px; font-family: 'DejaVu Sans', sans-serif; text-anchor: middle" x="27.329219" y="523.848" transform="rotate(-90 27.329219 523.848)">Salience Weight</text>
</g>
</g>
<g id="patch_36">
<path d="M 56.52 644.4
L 56.52 403.296
" style="fill: none; stroke: #000000; stroke-width: 0.8; stroke-linejoin: miter; stroke-linecap: square"/>
</g>
<g id="patch_37">
<path d="M 304.56 644.4
L 304.56 403.296
" style="fill: none; stroke: #000000; stroke-width: 0.8; stroke-linejoin: miter; stroke-linecap: square"/>
</g>
<g id="patch_38">
<path d="M 56.52 644.4
L 304.56 644.4
" style="fill: none; stroke: #000000; stroke-width: 0.8; stroke-linejoin: miter; stroke-linecap: square"/>
</g>
<g id="patch_39">
<path d="M 56.52 403.296
L 304.56 403.296
" style="fill: none; stroke: #000000; stroke-width: 0.8; stroke-linejoin: miter; stroke-linecap: square"/>
</g>
<g id="title4" transform="translate(-0.1920 0.2400)">
<text style="font-weight: 700; font-size: 12px; font-family: 'DejaVu Sans', sans-serif; text-anchor: middle" x="180.54" y="397.296" transform="rotate(-0 180.54 397.296)">Salience: Fixed Weights vs Betweenness Centrality</text>
</g>
<g id="legend_4">
<g id="leg4_frame">
<path d="M 116.4853 450.1269
L 298.2600 450.1269
Q 300.0600 450.1269 300.0600 448.3269
L 300.0600 409.5960
Q 300.0600 407.7960 298.2600 407.7960
L 116.4853 407.7960
Q 114.6853 407.7960 114.6853 409.5960
L 114.6853 448.3269
Q 114.6853 450.1269 116.4853 450.1269
z
" style="fill: #ffffff; opacity: 0.8; stroke: #cccccc; stroke-linejoin: miter"/>
</g>
<g id="leg4_handle0" transform="translate(0.0000 -0.3600)">
<path d="M 118.285313 418.234594
L 136.285313 418.234594
L 136.285313 411.934594
L 118.285313 411.934594
z
" style="fill: #ff0000; opacity: 0.7"/>
</g>
<g id="leg4_text0" transform="translate(0.0000 -0.2880)">
<text style="font-size: 9px; font-family: 'DejaVu Sans', sans-serif; text-anchor: start" x="143.485313" y="418.234594" transform="rotate(-0 143.485313 418.234594)">Current: Intra-string (0.8)</text>
</g>
<g id="leg4_handle1" transform="translate(0.0000 -0.3600)">
<path d="M 118.285313 431.444906
L 136.285313 431.444906
L 136.285313 425.144906
L 118.285313 425.144906
z
" style="fill: #ffa500; opacity: 0.7"/>
</g>
<g id="leg4_text1" transform="translate(0.0000 -0.2880)">
<text style="font-size: 9px; font-family: 'DejaVu Sans', sans-serif; text-anchor: start" x="143.485313" y="431.444906" transform="rotate(-0 143.485313 431.444906)">Current: Inter-string (0.2)</text>
</g>
<g id="leg4_handle2" transform="translate(0.0000 -0.3600)">
<path d="M 118.285313 444.655219
L 136.285313 444.655219
L 136.285313 438.355219
L 118.285313 438.355219
z
" style="fill: #0000ff; opacity: 0.7"/>
</g>
<g id="leg4_text2" transform="translate(0.0000 -0.2880)">
<text style="font-size: 9px; font-family: 'DejaVu Sans', sans-serif; text-anchor: start" x="143.485313" y="444.655219" transform="rotate(-0 143.485313 444.655219)">Proposed: Betweenness centrality</text>
</g>
</g>
</g>
<g id="axes_5">
<g id="patch_40">
<path d="M 379.056 644.4
L 627.096 644.4
L 627.096 403.296
L 379.056 403.296
z
" style="fill: #ffffff"/>
</g>
<g id="matplotlib.axis_9">
<g id="xtick_27">
<g id="line2d_104">
<path d="M 379.056 644.4
L 379.056 403.296
" clip-path="url(#p3d65bc6a67)" style="fill: none; stroke: #b0b0b0; stroke-opacity: 0.3; stroke-width: 0.8; stroke-linecap: square"/>
</g>
<g id="line2d_105">
<g>
<use href="#m7c25c535dc" x="379.056" y="644.4" style="stroke: #000000; stroke-width: 0.8"/>
</g>
</g>
<g id="text_51">
<text style="font-size: 10px; font-family: 'DejaVu Sans', sans-serif; text-anchor: middle" x="379.056" y="658.998437" transform="rotate(-0 379.056 658.998437)">0</text>
</g>
</g>
<g id="xtick_28">
<g id="line2d_106">
<path d="M 428.664 644.4
L 428.664 403.296
" clip-path="url(#p3d65bc6a67)" style="fill: none; stroke: #b0b0b0; stroke-opacity: 0.3; stroke-width: 0.8; stroke-linecap: square"/>
</g>
<g id="line2d_107">
<g>
<use href="#m7c25c535dc" x="428.664" y="644.4" style="stroke: #000000; stroke-width: 0.8"/>
</g>
</g>
<g id="text_52">
<text style="font-size: 10px; font-family: 'DejaVu Sans', sans-serif; text-anchor: middle" x="428.664" y="658.998437" transform="rotate(-0 428.664 658.998437)">20</text>
</g>
</g>
<g id="xtick_29">
<g id="line2d_108">
<path d="M 478.272 644.4
L 478.272 403.296
" clip-path="url(#p3d65bc6a67)" style="fill: none; stroke: #b0b0b0; stroke-opacity: 0.3; stroke-width: 0.8; stroke-linecap: square"/>
</g>
<g id="line2d_109">
<g>
<use href="#m7c25c535dc" x="478.272" y="644.4" style="stroke: #000000; stroke-width: 0.8"/>
</g>
</g>
<g id="text_53">
<text style="font-size: 10px; font-family: 'DejaVu Sans', sans-serif; text-anchor: middle" x="478.272" y="658.998437" transform="rotate(-0 478.272 658.998437)">40</text>
</g>
</g>
<g id="xtick_30">
<g id="line2d_110">
<path d="M 527.88 644.4
L 527.88 403.296
" clip-path="url(#p3d65bc6a67)" style="fill: none; stroke: #b0b0b0; stroke-opacity: 0.3; stroke-width: 0.8; stroke-linecap: square"/>
</g>
<g id="line2d_111">
<g>
<use href="#m7c25c535dc" x="527.88" y="644.4" style="stroke: #000000; stroke-width: 0.8"/>
</g>
</g>
<g id="text_54">
<text style="font-size: 10px; font-family: 'DejaVu Sans', sans-serif; text-anchor: middle" x="527.88" y="658.998437" transform="rotate(-0 527.88 658.998437)">60</text>
</g>
</g>
<g id="xtick_31">
<g id="line2d_112">
<path d="M 577.488 644.4
L 577.488 403.296
" clip-path="url(#p3d65bc6a67)" style="fill: none; stroke: #b0b0b0; stroke-opacity: 0.3; stroke-width: 0.8; stroke-linecap: square"/>
</g>
<g id="line2d_113">
<g>
<use href="#m7c25c535dc" x="577.488" y="644.4" style="stroke: #000000; stroke-width: 0.8"/>
</g>
</g>
<g id="text_55">
<text style="font-size: 10px; font-family: 'DejaVu Sans', sans-serif; text-anchor: middle" x="577.488" y="658.998437" transform="rotate(-0 577.488 658.998437)">80</text>
</g>
</g>
<g id="xtick_32">
<g id="line2d_114">
<path d="M 627.096 644.4
L 627.096 403.296
" clip-path="url(#p3d65bc6a67)" style="fill: none; stroke: #b0b0b0; stroke-opacity: 0.3; stroke-width: 0.8; stroke-linecap: square"/>
</g>
<g id="line2d_115">
<g>
<use href="#m7c25c535dc" x="627.096" y="644.4" style="stroke: #000000; stroke-width: 0.8"/>
</g>
</g>
<g id="text_56">
<text style="font-size: 10px; font-family: 'DejaVu Sans', sans-serif; text-anchor: middle" x="627.096" y="658.998437" transform="rotate(-0 627.096 658.998437)">100</text>
</g>
</g>
<g id="xlabel5">
<text style="font-size: 11px; font-family: 'DejaVu Sans', sans-serif; text-anchor: middle" x="503.076" y="673.436406" transform="rotate(-0 503.076 673.436406)">Activation Level</text>
</g>
</g>
<g id="matplotlib.axis_10">
<g id="ytick_27">
<g id="line2d_116">
<path d="M 379.056 633.440727
L 627.096 633.440727
" clip-path="url(#p3d65bc6a67)" style="fill: none; stroke: #b0b0b0; stroke-opacity: 0.3; stroke-width: 0.8; stroke-linecap: square"/>
</g>
<g id="line2d_117">
<g>
<use href="#mb258c49b38" x="379.056" y="633.440727" style="stroke: #000000; stroke-width: 0.8"/>
</g>
</g>
<g id="text_57">
<text style="font-size: 10px; font-family: 'DejaVu Sans', sans-serif; text-anchor: end" x="372.056" y="637.239946" transform="rotate(-0 372.056 637.239946)">0.0</text>
</g>
</g>
<g id="ytick_28">
<g id="line2d_118">
<path d="M 379.056 589.603636
L 627.096 589.603636
" clip-path="url(#p3d65bc6a67)" style="fill: none; stroke: #b0b0b0; stroke-opacity: 0.3; stroke-width: 0.8; stroke-linecap: square"/>
</g>
<g id="line2d_119">
<g>
<use href="#mb258c49b38" x="379.056" y="589.603636" style="stroke: #000000; stroke-width: 0.8"/>
</g>
</g>
<g id="text_58">
<text style="font-size: 10px; font-family: 'DejaVu Sans', sans-serif; text-anchor: end" x="372.056" y="593.402855" transform="rotate(-0 372.056 593.402855)">0.2</text>
</g>
</g>
<g id="ytick_29">
<g id="line2d_120">
<path d="M 379.056 545.766545
L 627.096 545.766545
" clip-path="url(#p3d65bc6a67)" style="fill: none; stroke: #b0b0b0; stroke-opacity: 0.3; stroke-width: 0.8; stroke-linecap: square"/>
</g>
<g id="line2d_121">
<g>
<use href="#mb258c49b38" x="379.056" y="545.766545" style="stroke: #000000; stroke-width: 0.8"/>
</g>
</g>
<g id="text_59">
<text style="font-size: 10px; font-family: 'DejaVu Sans', sans-serif; text-anchor: end" x="372.056" y="549.565764" transform="rotate(-0 372.056 549.565764)">0.4</text>
</g>
</g>
<g id="ytick_30">
<g id="line2d_122">
<path d="M 379.056 501.929455
L 627.096 501.929455
" clip-path="url(#p3d65bc6a67)" style="fill: none; stroke: #b0b0b0; stroke-opacity: 0.3; stroke-width: 0.8; stroke-linecap: square"/>
</g>
<g id="line2d_123">
<g>
<use href="#mb258c49b38" x="379.056" y="501.929455" style="stroke: #000000; stroke-width: 0.8"/>
</g>
</g>
<g id="text_60">
<text style="font-size: 10px; font-family: 'DejaVu Sans', sans-serif; text-anchor: end" x="372.056" y="505.728673" transform="rotate(-0 372.056 505.728673)">0.6</text>
</g>
</g>
<g id="ytick_31">
<g id="line2d_124">
<path d="M 379.056 458.092364
L 627.096 458.092364
" clip-path="url(#p3d65bc6a67)" style="fill: none; stroke: #b0b0b0; stroke-opacity: 0.3; stroke-width: 0.8; stroke-linecap: square"/>
</g>
<g id="line2d_125">
<g>
<use href="#mb258c49b38" x="379.056" y="458.092364" style="stroke: #000000; stroke-width: 0.8"/>
</g>
</g>
<g id="text_61">
<text style="font-size: 10px; font-family: 'DejaVu Sans', sans-serif; text-anchor: end" x="372.056" y="461.891582" transform="rotate(-0 372.056 461.891582)">0.8</text>
</g>
</g>
<g id="ytick_32">
<g id="line2d_126">
<path d="M 379.056 414.255273
L 627.096 414.255273
" clip-path="url(#p3d65bc6a67)" style="fill: none; stroke: #b0b0b0; stroke-opacity: 0.3; stroke-width: 0.8; stroke-linecap: square"/>
</g>
<g id="line2d_127">
<g>
<use href="#mb258c49b38" x="379.056" y="414.255273" style="stroke: #000000; stroke-width: 0.8"/>
</g>
</g>
<g id="text_62">
<text style="font-size: 10px; font-family: 'DejaVu Sans', sans-serif; text-anchor: end" x="372.056" y="418.054491" transform="rotate(-0 372.056 418.054491)">1.0</text>
</g>
</g>
<g id="ylabel5" transform="translate(-0.4800 0.2400)">
<text style="font-size: 11px; font-family: 'DejaVu Sans', sans-serif; text-anchor: middle" x="349.865219" y="523.848" transform="rotate(-90 349.865219 523.848)">Jump Probability</text>
</g>
</g>
<g id="line2d_128">
<path d="M 379.056 633.440727
L 452.595497 633.440727
L 453.84193 627.433055
L 460.07409 625.8025
L 466.306251 623.900766
L 471.29198 622.170111
L 476.277709 620.241871
L 481.263437 618.105364
L 486.249166 615.749912
L 491.234894 613.164832
L 496.220623 610.339446
L 501.206352 607.263073
L 506.19208 603.925032
L 511.177809 600.314643
L 516.163538 596.421227
L 521.149266 592.234101
L 526.134995 587.742587
L 531.120724 582.936004
L 536.106452 577.803672
L 541.092181 572.33491
L 546.07791 566.519038
L 551.063638 560.345376
L 556.049367 553.803243
L 561.035095 546.881959
L 566.020824 539.570844
L 571.006553 531.859217
L 575.992281 523.736399
L 580.97801 515.191709
L 585.963739 506.214466
L 590.949467 496.79399
L 595.935196 486.919602
L 600.920925 476.58062
L 605.906653 465.766364
L 610.892382 454.466155
L 615.878111 442.669311
L 620.863839 430.365153
L 625.849568 417.542999
L 627.096 414.255273
L 627.096 414.255273
" clip-path="url(#p3d65bc6a67)" style="fill: none; stroke: #ff0000; stroke-width: 2; stroke-linecap: square"/>
</g>
<g id="line2d_129">
<path d="M 379.056 633.440727
L 502.452784 633.440727
L 503.699216 605.627428
L 508.684945 602.154549
L 513.670673 598.403981
L 518.656402 594.365045
L 523.642131 590.02706
L 528.627859 585.379347
L 533.613588 580.411224
L 538.599317 575.112012
L 543.585045 569.47103
L 548.570774 563.477598
L 553.556503 557.121035
L 558.542231 550.390662
L 563.52796 543.275798
L 568.513688 535.765762
L 573.499417 527.849875
L 578.485146 519.517455
L 583.470874 510.757824
L 588.456603 501.5603
L 593.442332 491.914203
L 598.42806 481.808853
L 603.413789 471.233569
L 608.399518 460.177671
L 613.385246 448.63048
L 618.370975 436.581314
L 623.356704 424.019493
L 627.096 414.255273
L 627.096 414.255273
" clip-path="url(#p3d65bc6a67)" style="fill: none; stroke: #ffa500; stroke-width: 2; stroke-linecap: square"/>
</g>
<g id="line2d_130">
<path d="M 379.056 633.440727
L 552.31007 633.440727
L 553.556503 557.121035
L 558.542231 550.390662
L 563.52796 543.275798
L 568.513688 535.765762
L 573.499417 527.849875
L 578.485146 519.517455
L 583.470874 510.757824
L 588.456603 501.5603
L 593.442332 491.914203
L 598.42806 481.808853
L 603.413789 471.233569
L 608.399518 460.177671
L 613.385246 448.63048
L 618.370975 436.581314
L 623.356704 424.019493
L 627.096 414.255273
L 627.096 414.255273
" clip-path="url(#p3d65bc6a67)" style="fill: none; stroke: #008000; stroke-width: 2; stroke-linecap: square"/>
</g>
<g id="patch_41">
<path d="M 379.056 644.4
L 379.056 403.296
" style="fill: none; stroke: #000000; stroke-width: 0.8; stroke-linejoin: miter; stroke-linecap: square"/>
</g>
<g id="patch_42">
<path d="M 627.096 644.4
L 627.096 403.296
" style="fill: none; stroke: #000000; stroke-width: 0.8; stroke-linejoin: miter; stroke-linecap: square"/>
</g>
<g id="patch_43">
<path d="M 379.056 644.4
L 627.096 644.4
" style="fill: none; stroke: #000000; stroke-width: 0.8; stroke-linejoin: miter; stroke-linecap: square"/>
</g>
<g id="patch_44">
<path d="M 379.056 403.296
L 627.096 403.296
" style="fill: none; stroke: #000000; stroke-width: 0.8; stroke-linejoin: miter; stroke-linecap: square"/>
</g>
<g id="title5" transform="translate(-0.1920 0.2400)">
<text style="font-weight: 700; font-size: 12px; font-family: 'DejaVu Sans', sans-serif; text-anchor: middle" x="503.076" y="397.296" transform="rotate(-0 503.076 397.296)">Activation Jump: Fixed vs Adaptive Threshold</text>
</g>
<g id="line2d_131">
<path d="M 379.056 633.440727
L 514.917106 633.440727
L 516.163538 596.421227
L 521.149266 592.234101
L 526.134995 587.742587
L 531.120724 582.936004
L 536.106452 577.803672
L 541.092181 572.33491
L 546.07791 566.519038
L 551.063638 560.345376
L 556.049367 553.803243
L 561.035095 546.881959
L 566.020824 539.570844
L 571.006553 531.859217
L 575.992281 523.736399
L 580.97801 515.191709
L 585.963739 506.214466
L 590.949467 496.79399
L 595.935196 486.919602
L 600.920925 476.58062
L 605.906653 465.766364
L 610.892382 454.466155
L 615.878111 442.669311
L 620.863839 430.365153
L 625.849568 417.542999
L 627.096 414.255273
L 627.096 414.255273
" clip-path="url(#p3d65bc6a67)" style="fill: none; stroke-dasharray: 11.1,4.8; stroke-dashoffset: 0; stroke: #000000; stroke-width: 3"/>
</g>
<g id="legend_5">
<g id="leg5_frame">
<path d="M 385.0920 463.0922
L 589.7741 463.0922
Q 591.5741 463.0922 591.5741 461.2922
L 591.5741 409.5960
Q 591.5741 407.7960 589.7741 407.7960
L 385.0920 407.7960
Q 383.2920 407.7960 383.2920 409.5960
L 383.2920 461.2922
Q 383.2920 463.0922 385.0920 463.0922
z
" style="fill: #ffffff; opacity: 0.8; stroke: #cccccc; stroke-linejoin: miter"/>
</g>
<g id="leg5_handle0" transform="translate(-0.2640 -0.2160)">
<path d="M 387.156 415.084594
L 396.156 415.084594
L 405.156 415.084594
" style="fill: none; stroke-dasharray: 11.1,4.8; stroke-dashoffset: 0; stroke: #000000; stroke-width: 3"/>
</g>
<g id="leg5_text0" transform="translate(-0.1920 0.0000)">
<text style="font-size: 9px; font-family: 'DejaVu Sans', sans-serif; text-anchor: start" x="412.356" y="418.234594" transform="rotate(-0 412.356 418.234594)">Current: Fixed threshold = 55.0</text>
</g>
<g id="leg5_handle1" transform="translate(-0.2640 -0.4080)">
<path d="M 387.156 428.365219
L 396.156 428.365219
L 405.156 428.365219
" style="fill: none; stroke: #ff0000; stroke-width: 2; stroke-linecap: square"/>
</g>
<g id="leg5_text1" transform="translate(-0.1920 -0.1920)">
<text style="font-size: 9px; font-family: 'DejaVu Sans', sans-serif; text-anchor: start" x="412.356" y="431.515219" transform="rotate(-0 412.356 431.515219)">Proposed: Low connectivity (θ=30)</text>
</g>
<g id="leg5_handle2" transform="translate(-0.2640 -0.4800)">
<path d="M 387.156 441.645844
L 396.156 441.645844
L 405.156 441.645844
" style="fill: none; stroke: #ffa500; stroke-width: 2; stroke-linecap: square"/>
</g>
<g id="leg5_text2" transform="translate(-0.1920 -0.2640)">
<text style="font-size: 9px; font-family: 'DejaVu Sans', sans-serif; text-anchor: start" x="412.356" y="444.795844" transform="rotate(-0 412.356 444.795844)">Proposed: Medium connectivity (θ=50)</text>
</g>
<g id="leg5_handle3" transform="translate(-0.2640 -0.5760)">
<path d="M 387.156 454.926469
L 396.156 454.926469
L 405.156 454.926469
" style="fill: none; stroke: #008000; stroke-width: 2; stroke-linecap: square"/>
</g>
<g id="leg5_text3" transform="translate(-0.1920 -0.2640)">
<text style="font-size: 9px; font-family: 'DejaVu Sans', sans-serif; text-anchor: start" x="412.356" y="458.076469" transform="rotate(-0 412.356 458.076469)">Proposed: High connectivity (θ=70)</text>
</g>
</g>
</g>
<g id="axes_6">
<g id="patch_45">
<path d="M 701.4 644.4
L 949.44 644.4
L 949.44 403.296
L 701.4 403.296
z
" style="fill: #ffffff"/>
</g>
<g id="matplotlib.axis_11">
<g id="xtick_33">
<g id="line2d_132">
<path d="M 712.674545 644.4
L 712.674545 403.296
" clip-path="url(#p10320ebab6)" style="fill: none; stroke: #b0b0b0; stroke-opacity: 0.3; stroke-width: 0.8; stroke-linecap: square"/>
</g>
<g id="line2d_133">
<g>
<use href="#m7c25c535dc" x="712.674545" y="644.4" style="stroke: #000000; stroke-width: 0.8"/>
</g>
</g>
<g id="text_63">
<text style="font-size: 10px; font-family: 'DejaVu Sans', sans-serif; text-anchor: middle" x="712.674545" y="658.998437" transform="rotate(-0 712.674545 658.998437)">1</text>
</g>
</g>
<g id="xtick_34">
<g id="line2d_134">
<path d="M 769.047273 644.4
L 769.047273 403.296
" clip-path="url(#p10320ebab6)" style="fill: none; stroke: #b0b0b0; stroke-opacity: 0.3; stroke-width: 0.8; stroke-linecap: square"/>
</g>
<g id="line2d_135">
<g>
<use href="#m7c25c535dc" x="769.047273" y="644.4" style="stroke: #000000; stroke-width: 0.8"/>
</g>
</g>
<g id="text_64">
<text style="font-size: 10px; font-family: 'DejaVu Sans', sans-serif; text-anchor: middle" x="769.047273" y="658.998437" transform="rotate(-0 769.047273 658.998437)">2</text>
</g>
</g>
<g id="xtick_35">
<g id="line2d_136">
<path d="M 825.42 644.4
L 825.42 403.296
" clip-path="url(#p10320ebab6)" style="fill: none; stroke: #b0b0b0; stroke-opacity: 0.3; stroke-width: 0.8; stroke-linecap: square"/>
</g>
<g id="line2d_137">
<g>
<use href="#m7c25c535dc" x="825.42" y="644.4" style="stroke: #000000; stroke-width: 0.8"/>
</g>
</g>
<g id="text_65">
<text style="font-size: 10px; font-family: 'DejaVu Sans', sans-serif; text-anchor: middle" x="825.42" y="658.998437" transform="rotate(-0 825.42 658.998437)">3</text>
</g>
</g>
<g id="xtick_36">
<g id="line2d_138">
<path d="M 881.792727 644.4
L 881.792727 403.296
" clip-path="url(#p10320ebab6)" style="fill: none; stroke: #b0b0b0; stroke-opacity: 0.3; stroke-width: 0.8; stroke-linecap: square"/>
</g>
<g id="line2d_139">
<g>
<use href="#m7c25c535dc" x="881.792727" y="644.4" style="stroke: #000000; stroke-width: 0.8"/>
</g>
</g>
<g id="text_66">
<text style="font-size: 10px; font-family: 'DejaVu Sans', sans-serif; text-anchor: middle" x="881.792727" y="658.998437" transform="rotate(-0 881.792727 658.998437)">4</text>
</g>
</g>
<g id="xtick_37">
<g id="line2d_140">
<path d="M 938.165455 644.4
L 938.165455 403.296
" clip-path="url(#p10320ebab6)" style="fill: none; stroke: #b0b0b0; stroke-opacity: 0.3; stroke-width: 0.8; stroke-linecap: square"/>
</g>
<g id="line2d_141">
<g>
<use href="#m7c25c535dc" x="938.165455" y="644.4" style="stroke: #000000; stroke-width: 0.8"/>
</g>
</g>
<g id="text_67">
<text style="font-size: 10px; font-family: 'DejaVu Sans', sans-serif; text-anchor: middle" x="938.165455" y="658.998437" transform="rotate(-0 938.165455 658.998437)">5</text>
</g>
</g>
<g id="xlabel6">
<text style="font-size: 11px; font-family: 'DejaVu Sans', sans-serif; text-anchor: middle" x="825.42" y="673.436406" transform="rotate(-0 825.42 673.436406)">Number of Concept Mappings</text>
</g>
</g>
<g id="matplotlib.axis_12">
<g id="ytick_33">
<g id="line2d_142">
<path d="M 701.4 628.3264
L 949.44 628.3264
" clip-path="url(#p10320ebab6)" style="fill: none; stroke: #b0b0b0; stroke-opacity: 0.3; stroke-width: 0.8; stroke-linecap: square"/>
</g>
<g id="line2d_143">
<g>
<use href="#mb258c49b38" x="701.4" y="628.3264" style="stroke: #000000; stroke-width: 0.8"/>
</g>
</g>
<g id="text_68">
<text style="font-size: 10px; font-family: 'DejaVu Sans', sans-serif; text-anchor: end" x="694.4" y="632.125619" transform="rotate(-0 694.4 632.125619)">0.6</text>
</g>
</g>
<g id="ytick_34">
<g id="line2d_144">
<path d="M 701.4 596.1792
L 949.44 596.1792
" clip-path="url(#p10320ebab6)" style="fill: none; stroke: #b0b0b0; stroke-opacity: 0.3; stroke-width: 0.8; stroke-linecap: square"/>
</g>
<g id="line2d_145">
<g>
<use href="#mb258c49b38" x="701.4" y="596.1792" style="stroke: #000000; stroke-width: 0.8"/>
</g>
</g>
<g id="text_69">
<text style="font-size: 10px; font-family: 'DejaVu Sans', sans-serif; text-anchor: end" x="694.4" y="599.978419" transform="rotate(-0 694.4 599.978419)">0.8</text>
</g>
</g>
<g id="ytick_35">
<g id="line2d_146">
<path d="M 701.4 564.032
L 949.44 564.032
" clip-path="url(#p10320ebab6)" style="fill: none; stroke: #b0b0b0; stroke-opacity: 0.3; stroke-width: 0.8; stroke-linecap: square"/>
</g>
<g id="line2d_147">
<g>
<use href="#mb258c49b38" x="701.4" y="564.032" style="stroke: #000000; stroke-width: 0.8"/>
</g>
</g>
<g id="text_70">
<text style="font-size: 10px; font-family: 'DejaVu Sans', sans-serif; text-anchor: end" x="694.4" y="567.831219" transform="rotate(-0 694.4 567.831219)">1.0</text>
</g>
</g>
<g id="ytick_36">
<g id="line2d_148">
<path d="M 701.4 531.8848
L 949.44 531.8848
" clip-path="url(#p10320ebab6)" style="fill: none; stroke: #b0b0b0; stroke-opacity: 0.3; stroke-width: 0.8; stroke-linecap: square"/>
</g>
<g id="line2d_149">
<g>
<use href="#mb258c49b38" x="701.4" y="531.8848" style="stroke: #000000; stroke-width: 0.8"/>
</g>
</g>
<g id="text_71">
<text style="font-size: 10px; font-family: 'DejaVu Sans', sans-serif; text-anchor: end" x="694.4" y="535.684019" transform="rotate(-0 694.4 535.684019)">1.2</text>
</g>
</g>
<g id="ytick_37">
<g id="line2d_150">
<path d="M 701.4 499.7376
L 949.44 499.7376
" clip-path="url(#p10320ebab6)" style="fill: none; stroke: #b0b0b0; stroke-opacity: 0.3; stroke-width: 0.8; stroke-linecap: square"/>
</g>
<g id="line2d_151">
<g>
<use href="#mb258c49b38" x="701.4" y="499.7376" style="stroke: #000000; stroke-width: 0.8"/>
</g>
</g>
<g id="text_72">
<text style="font-size: 10px; font-family: 'DejaVu Sans', sans-serif; text-anchor: end" x="694.4" y="503.536819" transform="rotate(-0 694.4 503.536819)">1.4</text>
</g>
</g>
<g id="ytick_38">
<g id="line2d_152">
<path d="M 701.4 467.5904
L 949.44 467.5904
" clip-path="url(#p10320ebab6)" style="fill: none; stroke: #b0b0b0; stroke-opacity: 0.3; stroke-width: 0.8; stroke-linecap: square"/>
</g>
<g id="line2d_153">
<g>
<use href="#mb258c49b38" x="701.4" y="467.5904" style="stroke: #000000; stroke-width: 0.8"/>
</g>
</g>
<g id="text_73">
<text style="font-size: 10px; font-family: 'DejaVu Sans', sans-serif; text-anchor: end" x="694.4" y="471.389619" transform="rotate(-0 694.4 471.389619)">1.6</text>
</g>
</g>
<g id="ytick_39">
<g id="line2d_154">
<path d="M 701.4 435.4432
L 949.44 435.4432
" clip-path="url(#p10320ebab6)" style="fill: none; stroke: #b0b0b0; stroke-opacity: 0.3; stroke-width: 0.8; stroke-linecap: square"/>
</g>
<g id="line2d_155">
<g>
<use href="#mb258c49b38" x="701.4" y="435.4432" style="stroke: #000000; stroke-width: 0.8"/>
</g>
</g>
<g id="text_74">
<text style="font-size: 10px; font-family: 'DejaVu Sans', sans-serif; text-anchor: end" x="694.4" y="439.242419" transform="rotate(-0 694.4 439.242419)">1.8</text>
</g>
</g>
<g id="ytick_40">
<g id="line2d_156">
<path d="M 701.4 403.296
L 949.44 403.296
" clip-path="url(#p10320ebab6)" style="fill: none; stroke: #b0b0b0; stroke-opacity: 0.3; stroke-width: 0.8; stroke-linecap: square"/>
</g>
<g id="line2d_157">
<g>
<use href="#mb258c49b38" x="701.4" y="403.296" style="stroke: #000000; stroke-width: 0.8"/>
</g>
</g>
<g id="text_75">
<text style="font-size: 10px; font-family: 'DejaVu Sans', sans-serif; text-anchor: end" x="694.4" y="407.095219" transform="rotate(-0 694.4 407.095219)">2.0</text>
</g>
</g>
<g id="ylabel6" transform="translate(-0.4800 0.2400)">
<text style="font-size: 11px; font-family: 'DejaVu Sans', sans-serif; text-anchor: middle" x="672.209219" y="523.848" transform="rotate(-90 672.209219 523.848)">Mapping Factor</text>
</g>
</g>
<g id="line2d_158">
<path d="M 712.674545 596.1792
L 769.047273 531.8848
L 825.42 467.5904
L 881.792727 467.5904
L 938.165455 467.5904
" clip-path="url(#p10320ebab6)" style="fill: none; stroke: #ff0000; stroke-width: 2; stroke-linecap: square"/>
<defs>
<path id="ma9f54131c9" d="M 0 5
C 1.326016 5 2.597899 4.473168 3.535534 3.535534
C 4.473168 2.597899 5 1.326016 5 0
C 5 -1.326016 4.473168 -2.597899 3.535534 -3.535534
C 2.597899 -4.473168 1.326016 -5 0 -5
C -1.326016 -5 -2.597899 -4.473168 -3.535534 -3.535534
C -4.473168 -2.597899 -5 -1.326016 -5 0
C -5 1.326016 -4.473168 2.597899 -3.535534 3.535534
C -2.597899 4.473168 -1.326016 5 0 5
z
" style="stroke: #ff0000"/>
</defs>
<g clip-path="url(#p10320ebab6)">
<use href="#ma9f54131c9" x="712.674545" y="596.1792" style="fill: #ff0000; stroke: #ff0000"/>
<use href="#ma9f54131c9" x="769.047273" y="531.8848" style="fill: #ff0000; stroke: #ff0000"/>
<use href="#ma9f54131c9" x="825.42" y="467.5904" style="fill: #ff0000; stroke: #ff0000"/>
<use href="#ma9f54131c9" x="881.792727" y="467.5904" style="fill: #ff0000; stroke: #ff0000"/>
<use href="#ma9f54131c9" x="938.165455" y="467.5904" style="fill: #ff0000; stroke: #ff0000"/>
</g>
</g>
<g id="line2d_159">
<path d="M 712.674545 564.032
L 769.047273 526.422187
L 825.42 499.7376
L 881.792727 479.039426
L 938.165455 462.127787
" clip-path="url(#p10320ebab6)" style="fill: none; stroke: #0000ff; stroke-width: 2; stroke-linecap: square"/>
<defs>
<path id="m65c6a2b935" d="M 0 -5
L -5 5
L 5 5
z
" style="stroke: #0000ff; stroke-linejoin: miter"/>
</defs>
<g clip-path="url(#p10320ebab6)">
<use href="#m65c6a2b935" x="712.674545" y="564.032" style="fill: #0000ff; stroke: #0000ff; stroke-linejoin: miter"/>
<use href="#m65c6a2b935" x="769.047273" y="526.422187" style="fill: #0000ff; stroke: #0000ff; stroke-linejoin: miter"/>
<use href="#m65c6a2b935" x="825.42" y="499.7376" style="fill: #0000ff; stroke: #0000ff; stroke-linejoin: miter"/>
<use href="#m65c6a2b935" x="881.792727" y="479.039426" style="fill: #0000ff; stroke: #0000ff; stroke-linejoin: miter"/>
<use href="#m65c6a2b935" x="938.165455" y="462.127787" style="fill: #0000ff; stroke: #0000ff; stroke-linejoin: miter"/>
</g>
</g>
<g id="patch_46">
<path d="M 701.4 644.4
L 701.4 403.296
" style="fill: none; stroke: #000000; stroke-width: 0.8; stroke-linejoin: miter; stroke-linecap: square"/>
</g>
<g id="patch_47">
<path d="M 949.44 644.4
L 949.44 403.296
" style="fill: none; stroke: #000000; stroke-width: 0.8; stroke-linejoin: miter; stroke-linecap: square"/>
</g>
<g id="patch_48">
<path d="M 701.4 644.4
L 949.44 644.4
" style="fill: none; stroke: #000000; stroke-width: 0.8; stroke-linejoin: miter; stroke-linecap: square"/>
</g>
<g id="patch_49">
<path d="M 701.4 403.296
L 949.44 403.296
" style="fill: none; stroke: #000000; stroke-width: 0.8; stroke-linejoin: miter; stroke-linecap: square"/>
</g>
<g id="title6" transform="translate(-0.1920 0.2400)">
<text style="font-weight: 700; font-size: 12px; font-family: 'DejaVu Sans', sans-serif; text-anchor: middle" x="825.42" y="397.296" transform="rotate(-0 825.42 397.296)">Correspondence Strength: Linear vs Logarithmic</text>
</g>
<g id="legend_6">
<g id="leg6_frame">
<path d="M 759.7040 441.3701
L 942.4400 441.3701
Q 944.4400 441.3701 944.4400 439.3701
L 944.4400 410.2960
Q 944.4400 408.2960 942.4400 408.2960
L 759.7040 408.2960
Q 757.7040 408.2960 757.7040 410.2960
L 757.7040 439.3701
Q 757.7040 441.3701 759.7040 441.3701
z
" style="fill: #ffffff; opacity: 0.8; stroke: #cccccc; stroke-linejoin: miter"/>
</g>
<g id="leg6_handle0" transform="translate(0.3600 -0.2160)">
<path d="M 761.44 416.394437
L 771.44 416.394437
L 781.44 416.394437
" style="fill: none; stroke: #ff0000; stroke-width: 2; stroke-linecap: square"/>
<g>
<use href="#ma9f54131c9" x="771.44" y="416.394437" style="fill: #ff0000; stroke: #ff0000"/>
</g>
</g>
<g id="leg6_text0" transform="translate(0.2400 0.0000)">
<text style="font-size: 10px; font-family: 'DejaVu Sans', sans-serif; text-anchor: start" x="789.44" y="419.894437" transform="rotate(-0 789.44 419.894437)">Current: Linear +0.4</text>
</g>
<g id="leg6_handle1" transform="translate(0.3600 0.2400)">
<path d="M 761.44 431.074125
L 771.44 431.074125
L 781.44 431.074125
" style="fill: none; stroke: #0000ff; stroke-width: 2; stroke-linecap: square"/>
<g>
<use href="#m65c6a2b935" x="771.44" y="431.074125" style="fill: #0000ff; stroke: #0000ff; stroke-linejoin: miter"/>
</g>
</g>
<g id="leg6_text1" transform="translate(0.2400 0.8160)">
<g transform="translate(789.44 434.574125)">
<text>
<tspan x="0" y="-0.40625" style="font-size: 10px; font-family: 'DejaVu Sans', sans-serif">P</tspan>
<tspan x="6.030273" y="-0.40625" style="font-size: 10px; font-family: 'DejaVu Sans', sans-serif">r</tspan>
<tspan x="10.141602" y="-0.40625" style="font-size: 10px; font-family: 'DejaVu Sans', sans-serif">o</tspan>
<tspan x="16.259766" y="-0.40625" style="font-size: 10px; font-family: 'DejaVu Sans', sans-serif">p</tspan>
<tspan x="22.607422" y="-0.40625" style="font-size: 10px; font-family: 'DejaVu Sans', sans-serif">o</tspan>
<tspan x="28.725586" y="-0.40625" style="font-size: 10px; font-family: 'DejaVu Sans', sans-serif">s</tspan>
<tspan x="33.935547" y="-0.40625" style="font-size: 10px; font-family: 'DejaVu Sans', sans-serif">e</tspan>
<tspan x="40.087891" y="-0.40625" style="font-size: 10px; font-family: 'DejaVu Sans', sans-serif">d</tspan>
<tspan x="46.435547" y="-0.40625" style="font-size: 10px; font-family: 'DejaVu Sans', sans-serif">:</tspan>
<tspan x="49.804688" y="-0.40625" style="font-size: 10px; font-family: 'DejaVu Sans', sans-serif"> </tspan>
<tspan x="52.983398" y="-0.40625" style="font-size: 10px; font-family: 'DejaVu Sans', sans-serif">0</tspan>
<tspan x="59.345703" y="-0.40625" style="font-size: 10px; font-family: 'DejaVu Sans', sans-serif">.</tspan>
<tspan x="62.524414" y="-0.40625" style="font-size: 10px; font-family: 'DejaVu Sans', sans-serif">6</tspan>
<tspan x="70.834961" y="-0.40625" style="font-size: 10px; font-family: 'DejaVu Sans', sans-serif">+</tspan>
<tspan x="81.162109" y="-0.40625" style="font-size: 10px; font-family: 'DejaVu Sans', sans-serif">0</tspan>
<tspan x="87.524414" y="-0.40625" style="font-size: 10px; font-family: 'DejaVu Sans', sans-serif">.</tspan>
<tspan x="90.703125" y="-0.40625" style="font-size: 10px; font-family: 'DejaVu Sans', sans-serif">4</tspan>
<tspan x="97.06543" y="-0.40625" style="font-size: 10px; font-family: 'DejaVu Sans', sans-serif">l</tspan>
<tspan x="99.84375" y="-0.40625" style="font-size: 10px; font-family: 'DejaVu Sans', sans-serif">o</tspan>
<tspan x="105.961914" y="-0.40625" style="font-size: 10px; font-family: 'DejaVu Sans', sans-serif">g</tspan>
<tspan x="118.755892" y="-0.40625" style="font-size: 10px; font-family: 'DejaVu Sans', sans-serif">(</tspan>
<tspan x="130.396517" y="-0.40625" style="font-size: 10px; font-family: 'DejaVu Sans', sans-serif">+</tspan>
<tspan x="140.723665" y="-0.40625" style="font-size: 10px; font-family: 'DejaVu Sans', sans-serif">1</tspan>
<tspan x="147.08597" y="-0.40625" style="font-size: 10px; font-family: 'DejaVu Sans', sans-serif">)</tspan>
<tspan x="112.405273" y="1.234375" style="font-size: 7px; font-family: 'DejaVu Sans', sans-serif">2</tspan>
<tspan x="122.657259" y="-0.40625" style="font-style: oblique; font-size: 10px; font-family: 'DejaVu Sans', sans-serif">k</tspan>
</text>
</g>
</g>
</g>
</g>
<g id="text_76">
<text style="font-weight: 700; font-size: 16px; font-family: 'DejaVu Sans', sans-serif; text-anchor: middle" x="488.667888" y="19.25862" transform="rotate(-0 488.667888 19.25862)">Comparison of Current Hardcoded Formulas vs Proposed Graph-Theoretical Alternatives</text>
</g>
</g>
<defs>
<clipPath id="p49a4b855a4">
<rect x="56.52" y="89.856" width="248.04" height="241.104"/>
</clipPath>
<clipPath id="p47d98718e2">
<rect x="379.056" y="89.856" width="248.04" height="241.104"/>
</clipPath>
<clipPath id="p8696d32031">
<rect x="701.4" y="89.856" width="248.04" height="241.104"/>
</clipPath>
<clipPath id="pd44d3f12e1">
<rect x="56.52" y="403.296" width="248.04" height="241.104"/>
</clipPath>
<clipPath id="p3d65bc6a67">
<rect x="379.056" y="403.296" width="248.04" height="241.104"/>
</clipPath>
<clipPath id="p10320ebab6">
<rect x="701.4" y="403.296" width="248.04" height="241.104"/>
</clipPath>
</defs>
</svg>

</body></html>
